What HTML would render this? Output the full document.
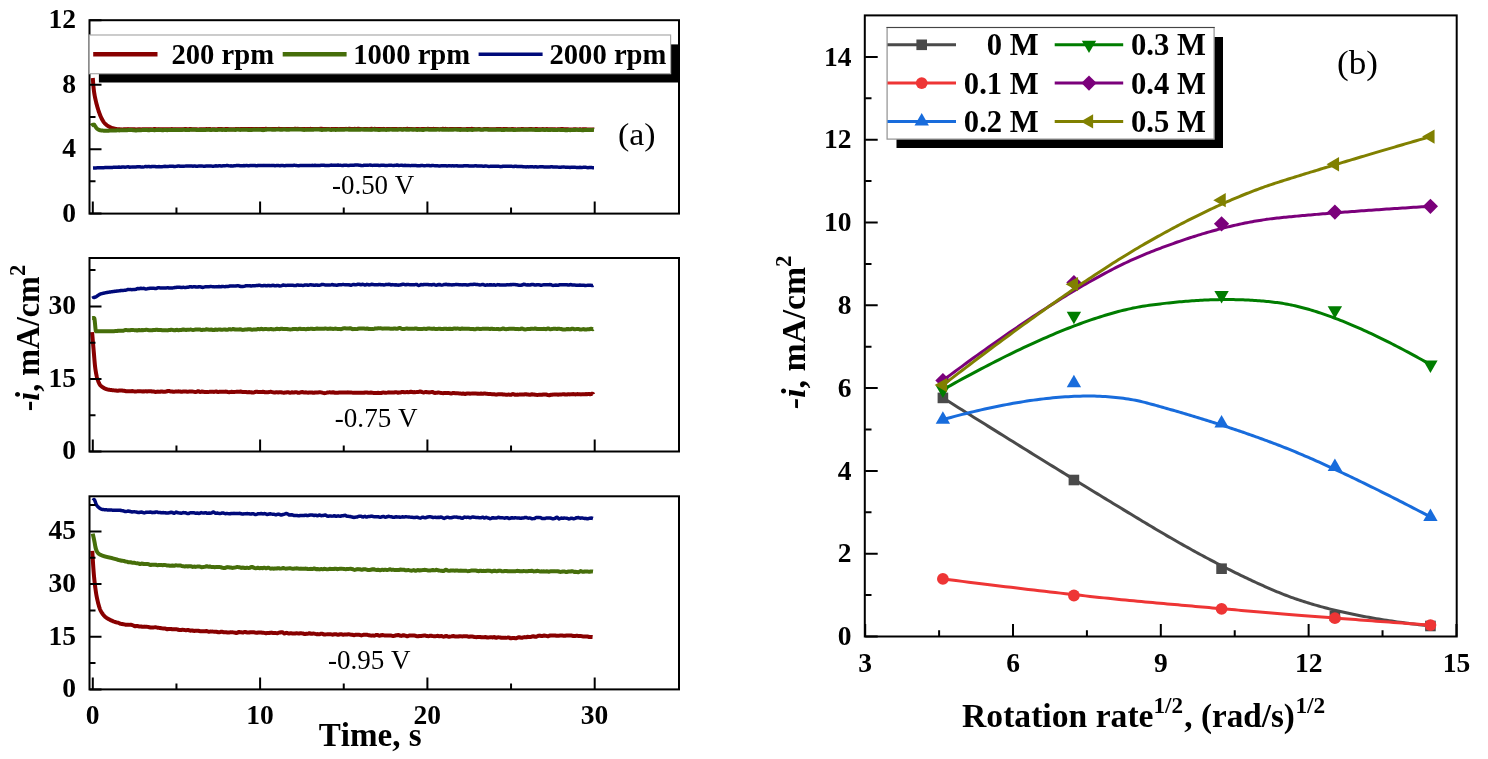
<!DOCTYPE html>
<html><head><meta charset="utf-8"><style>html,body{margin:0;padding:0;background:#fff;}svg{display:block;will-change:transform;}text{font-family:"Liberation Serif",serif;font-kerning:none;}</style></head>
<body><svg width="1488" height="759" viewBox="0 0 1488 759"><rect width="1488" height="759" fill="#fff"/><path d="M92.80,78.00 L93.05,81.59 L93.30,84.79 L93.55,87.52 L93.80,89.76 L94.05,91.69 L94.30,93.38 L94.55,94.89 L94.80,96.25 L95.05,97.50 L95.30,98.67 L95.55,99.78 L95.80,100.86 L96.05,101.91 L96.30,102.92 L96.55,103.91 L96.80,104.87 L97.05,105.80 L97.30,106.70 L97.55,107.57 L97.80,108.41 L98.05,109.22 L98.30,110.00 L98.55,110.76 L98.80,111.50 L99.05,112.22 L99.30,112.93 L99.55,113.62 L99.80,114.28 L100.05,114.93 L100.30,115.55 L100.55,116.15 L100.80,116.73 L101.05,117.28 L101.30,117.80 L101.55,118.30 L101.80,118.78 L102.05,119.25 L102.30,119.71 L102.55,120.16 L102.80,120.59 L103.05,121.00 L103.30,121.40 L103.55,121.77 L103.80,122.13 L104.05,122.46 L104.30,122.77 L104.55,123.06 L104.80,123.32 L105.05,123.58 L105.30,123.84 L105.55,124.08 L105.80,124.31 L106.05,124.53 L106.30,124.75 L106.55,124.95 L106.80,125.15 L107.05,125.34 L107.30,125.52 L107.55,125.70 L107.80,125.87 L108.05,126.03 L108.30,126.18 L108.55,126.33 L108.80,126.47 L109.05,126.62 L109.30,126.76 L109.55,126.89 L109.80,127.03 L110.05,127.16 L110.30,127.28 L110.55,127.41 L110.80,127.52 L111.05,127.64 L111.30,127.74 L111.55,127.85 L111.80,127.94 L112.05,128.03 L112.30,128.11 L112.55,128.19 L112.80,128.25 L113.80,128.48 L114.80,128.69 L115.80,128.88 L116.80,129.04 L117.80,129.17 L118.80,129.23 L119.80,129.29 L120.80,129.37 L121.80,129.41 L122.80,129.42 L123.80,129.36 L124.80,129.29 L125.80,129.32 L126.80,129.28 L127.80,129.12 L128.80,129.17 L129.80,129.22 L130.80,129.17 L131.80,129.23 L132.80,129.29 L133.80,129.34 L134.80,129.36 L135.80,129.42 L136.80,129.47 L137.80,129.35 L138.80,129.15 L139.80,129.18 L140.80,129.38 L141.80,129.33 L142.80,129.22 L143.80,129.26 L144.80,129.32 L145.80,129.36 L146.80,129.33 L147.80,129.25 L148.80,129.23 L149.80,129.24 L150.80,129.23 L151.80,129.37 L152.80,129.38 L153.80,129.07 L154.80,128.98 L155.80,129.34 L156.80,129.51 L157.80,129.23 L158.80,129.12 L159.80,129.22 L160.80,129.18 L161.80,129.15 L162.80,129.23 L163.80,129.27 L164.80,129.26 L165.80,129.25 L166.80,129.21 L167.80,129.14 L168.80,129.13 L169.80,129.14 L170.80,129.15 L171.80,129.08 L172.80,129.15 L173.80,129.33 L174.80,129.31 L175.80,129.26 L176.80,129.27 L177.80,129.21 L178.80,129.21 L179.80,129.28 L180.80,129.22 L181.80,129.17 L182.80,129.22 L183.80,129.16 L184.80,129.04 L185.80,129.06 L186.80,129.22 L187.80,129.30 L188.80,129.19 L189.80,129.07 L190.80,129.01 L191.80,129.15 L192.80,129.29 L193.80,129.20 L194.80,129.14 L195.80,129.23 L196.80,129.32 L197.80,129.40 L198.80,129.44 L199.80,129.29 L200.80,129.14 L201.80,129.15 L202.80,129.19 L203.80,129.20 L204.80,129.20 L205.80,129.12 L206.80,129.07 L207.80,129.16 L208.80,129.11 L209.80,129.07 L210.80,129.25 L211.80,129.37 L212.80,129.30 L213.80,129.17 L214.80,129.23 L215.80,129.45 L216.80,129.34 L217.80,129.06 L218.80,129.03 L219.80,129.05 L220.80,129.02 L221.80,129.07 L222.80,129.18 L223.80,129.30 L224.80,129.17 L225.80,128.92 L226.80,128.93 L227.80,129.04 L228.80,129.18 L229.80,129.23 L230.80,129.14 L231.80,129.14 L232.80,129.36 L233.80,129.36 L234.80,129.13 L235.80,129.07 L236.80,129.07 L237.80,129.01 L238.80,129.08 L239.80,129.18 L240.80,129.09 L241.80,129.05 L242.80,129.10 L243.80,129.05 L244.80,129.01 L245.80,129.02 L246.80,128.99 L247.80,128.94 L248.80,128.97 L249.80,129.02 L250.80,129.04 L251.80,129.05 L252.80,129.08 L253.80,129.12 L254.80,129.07 L255.80,129.00 L256.80,128.96 L257.80,128.91 L258.80,128.93 L259.80,128.99 L260.80,128.93 L261.80,128.94 L262.80,129.07 L263.80,129.09 L264.80,128.92 L265.80,128.84 L266.80,128.99 L267.80,129.01 L268.80,128.95 L269.80,129.01 L270.80,128.94 L271.80,128.89 L272.80,128.97 L273.80,129.02 L274.80,128.96 L275.80,128.96 L276.80,129.09 L277.80,128.97 L278.80,128.86 L279.80,128.98 L280.80,129.03 L281.80,129.01 L282.80,128.99 L283.80,129.00 L284.80,128.99 L285.80,128.98 L286.80,129.01 L287.80,128.95 L288.80,128.90 L289.80,128.99 L290.80,129.04 L291.80,128.96 L292.80,128.94 L293.80,128.93 L294.80,128.80 L295.80,128.81 L296.80,128.88 L297.80,128.87 L298.80,128.93 L299.80,129.04 L300.80,129.04 L301.80,128.92 L302.80,128.91 L303.80,128.88 L304.80,128.93 L305.80,129.15 L306.80,129.05 L307.80,128.94 L308.80,129.05 L309.80,128.95 L310.80,128.85 L311.80,129.02 L312.80,129.09 L313.80,128.98 L314.80,128.97 L315.80,128.99 L316.80,128.96 L317.80,129.01 L318.80,129.01 L319.80,128.87 L320.80,128.82 L321.80,128.86 L322.80,128.95 L323.80,129.06 L324.80,129.10 L325.80,129.09 L326.80,129.07 L327.80,128.99 L328.80,128.97 L329.80,129.12 L330.80,129.20 L331.80,129.03 L332.80,128.92 L333.80,128.93 L334.80,128.91 L335.80,128.91 L336.80,128.96 L337.80,129.05 L338.80,129.13 L339.80,129.09 L340.80,129.08 L341.80,129.10 L342.80,129.09 L343.80,129.10 L344.80,128.97 L345.80,128.87 L346.80,128.92 L347.80,128.90 L348.80,128.85 L349.80,128.84 L350.80,128.90 L351.80,129.05 L352.80,129.03 L353.80,128.89 L354.80,128.86 L355.80,128.90 L356.80,128.91 L357.80,128.84 L358.80,128.85 L359.80,128.91 L360.80,128.99 L361.80,129.12 L362.80,129.16 L363.80,129.08 L364.80,128.98 L365.80,128.92 L366.80,129.00 L367.80,129.05 L368.80,129.13 L369.80,129.07 L370.80,128.86 L371.80,128.86 L372.80,128.93 L373.80,128.94 L374.80,128.87 L375.80,128.89 L376.80,129.03 L377.80,129.08 L378.80,129.00 L379.80,128.90 L380.80,128.95 L381.80,129.06 L382.80,128.96 L383.80,128.87 L384.80,129.02 L385.80,129.13 L386.80,129.09 L387.80,129.05 L388.80,129.01 L389.80,128.96 L390.80,128.98 L391.80,129.01 L392.80,129.09 L393.80,129.10 L394.80,128.97 L395.80,128.96 L396.80,129.06 L397.80,129.16 L398.80,129.07 L399.80,128.94 L400.80,129.02 L401.80,129.20 L402.80,129.17 L403.80,128.91 L404.80,128.93 L405.80,129.04 L406.80,128.87 L407.80,128.84 L408.80,129.04 L409.80,129.10 L410.80,129.01 L411.80,129.03 L412.80,129.12 L413.80,129.16 L414.80,129.13 L415.80,129.06 L416.80,128.95 L417.80,128.94 L418.80,129.04 L419.80,129.14 L420.80,129.08 L421.80,128.99 L422.80,129.08 L423.80,129.11 L424.80,129.02 L425.80,128.97 L426.80,128.89 L427.80,128.84 L428.80,128.96 L429.80,129.00 L430.80,128.97 L431.80,128.98 L432.80,128.89 L433.80,128.87 L434.80,129.04 L435.80,129.11 L436.80,128.99 L437.80,129.04 L438.80,129.16 L439.80,129.16 L440.80,129.11 L441.80,128.87 L442.80,128.78 L443.80,128.93 L444.80,128.93 L445.80,128.87 L446.80,128.95 L447.80,129.12 L448.80,129.13 L449.80,129.05 L450.80,129.09 L451.80,129.08 L452.80,129.03 L453.80,129.02 L454.80,129.05 L455.80,129.10 L456.80,129.08 L457.80,129.07 L458.80,129.09 L459.80,129.05 L460.80,129.06 L461.80,129.18 L462.80,129.19 L463.80,129.16 L464.80,129.21 L465.80,129.15 L466.80,129.01 L467.80,129.01 L468.80,129.08 L469.80,129.03 L470.80,128.89 L471.80,128.86 L472.80,128.91 L473.80,129.02 L474.80,129.21 L475.80,129.30 L476.80,129.24 L477.80,129.12 L478.80,129.05 L479.80,129.10 L480.80,129.27 L481.80,129.38 L482.80,129.26 L483.80,129.10 L484.80,129.04 L485.80,128.99 L486.80,128.97 L487.80,129.03 L488.80,129.19 L489.80,129.28 L490.80,129.25 L491.80,129.31 L492.80,129.34 L493.80,129.27 L494.80,129.29 L495.80,129.22 L496.80,129.10 L497.80,129.10 L498.80,129.10 L499.80,129.07 L500.80,129.08 L501.80,129.13 L502.80,129.11 L503.80,129.04 L504.80,128.99 L505.80,128.97 L506.80,129.09 L507.80,129.20 L508.80,129.18 L509.80,129.18 L510.80,129.16 L511.80,129.07 L512.80,129.09 L513.80,129.21 L514.80,129.27 L515.80,129.35 L516.80,129.40 L517.80,129.30 L518.80,129.30 L519.80,129.31 L520.80,129.15 L521.80,129.00 L522.80,129.00 L523.80,129.16 L524.80,129.28 L525.80,129.25 L526.80,129.17 L527.80,129.16 L528.80,129.09 L529.80,128.99 L530.80,129.09 L531.80,129.12 L532.80,129.15 L533.80,129.26 L534.80,129.10 L535.80,128.95 L536.80,129.07 L537.80,129.20 L538.80,129.19 L539.80,129.25 L540.80,129.30 L541.80,129.19 L542.80,129.06 L543.80,129.16 L544.80,129.28 L545.80,129.13 L546.80,129.06 L547.80,129.20 L548.80,129.31 L549.80,129.33 L550.80,129.26 L551.80,129.21 L552.80,129.31 L553.80,129.27 L554.80,129.19 L555.80,129.44 L556.80,129.52 L557.80,129.30 L558.80,129.30 L559.80,129.33 L560.80,129.09 L561.80,128.93 L562.80,129.02 L563.80,129.13 L564.80,129.23 L565.80,129.33 L566.80,129.28 L567.80,129.21 L568.80,129.39 L569.80,129.58 L570.80,129.57 L571.80,129.47 L572.80,129.41 L573.80,129.37 L574.80,129.31 L575.80,129.35 L576.80,129.41 L577.80,129.46 L578.80,129.39 L579.80,129.26 L580.80,129.36 L581.80,129.42 L582.80,129.27 L583.80,129.21 L584.80,129.18 L585.80,129.23 L586.80,129.46 L587.80,129.59 L588.80,129.54 L589.80,129.44 L590.80,129.41 L591.80,129.38 L592.80,129.38 L593.80,129.50 L594.00,129.55" fill="none" stroke="#880000" stroke-width="4.0" stroke-linejoin="round" stroke-linecap="butt"/><path d="M91.20,125.80 L91.45,125.57 L91.70,125.37 L91.95,125.18 L92.20,125.03 L92.45,124.92 L92.70,124.84 L92.95,124.77 L93.20,124.70 L93.45,124.65 L93.70,124.62 L93.95,124.60 L94.20,124.68 L94.45,124.97 L94.70,125.37 L94.95,125.81 L95.20,126.20 L95.45,126.55 L95.70,126.92 L95.95,127.30 L96.20,127.67 L96.45,128.01 L96.70,128.32 L96.95,128.56 L97.20,128.75 L97.45,128.94 L97.70,129.12 L97.95,129.29 L98.20,129.45 L98.45,129.60 L98.70,129.73 L98.95,129.86 L99.20,129.97 L99.45,130.07 L99.70,130.16 L99.95,130.23 L100.20,130.28 L100.45,130.32 L100.70,130.36 L100.95,130.39 L101.20,130.43 L101.45,130.46 L101.70,130.49 L101.95,130.52 L102.20,130.55 L102.45,130.57 L102.70,130.59 L102.95,130.61 L103.20,130.63 L103.45,130.65 L103.70,130.66 L103.95,130.68 L104.20,130.69 L104.45,130.69 L104.70,130.70 L104.95,130.70 L105.20,130.70 L105.45,130.70 L105.70,130.70 L105.95,130.70 L106.20,130.69 L106.45,130.69 L106.70,130.69 L106.95,130.68 L107.20,130.68 L107.45,130.67 L107.70,130.67 L107.95,130.66 L108.20,130.66 L108.45,130.65 L108.70,130.65 L108.95,130.64 L109.20,130.63 L109.45,130.62 L109.70,130.62 L109.95,130.61 L110.20,130.60 L110.45,130.59 L110.70,130.58 L110.95,130.58 L111.20,130.57 L112.20,130.53 L113.20,130.49 L114.20,130.45 L115.20,130.42 L116.20,130.39 L117.20,130.27 L118.20,130.36 L119.20,130.39 L120.20,130.34 L121.20,130.36 L122.20,130.29 L123.20,130.21 L124.20,130.17 L125.20,130.19 L126.20,130.21 L127.20,130.16 L128.20,130.10 L129.20,130.07 L130.20,130.01 L131.20,129.99 L132.20,130.11 L133.20,130.26 L134.20,130.32 L135.20,130.40 L136.20,130.46 L137.20,130.29 L138.20,130.21 L139.20,130.25 L140.20,130.17 L141.20,130.13 L142.20,130.09 L143.20,130.00 L144.20,129.98 L145.20,130.09 L146.20,130.08 L147.20,130.07 L148.20,130.24 L149.20,130.24 L150.20,130.08 L151.20,130.00 L152.20,130.02 L153.20,130.08 L154.20,130.16 L155.20,130.13 L156.20,129.99 L157.20,129.93 L158.20,129.89 L159.20,129.84 L160.20,129.90 L161.20,130.02 L162.20,130.15 L163.20,130.14 L164.20,130.02 L165.20,130.00 L166.20,130.09 L167.20,130.18 L168.20,130.12 L169.20,129.99 L170.20,129.88 L171.20,129.87 L172.20,129.94 L173.20,129.97 L174.20,129.91 L175.20,129.87 L176.20,129.91 L177.20,130.00 L178.20,130.08 L179.20,130.07 L180.20,129.98 L181.20,129.89 L182.20,129.88 L183.20,129.86 L184.20,129.85 L185.20,129.90 L186.20,129.92 L187.20,129.98 L188.20,130.05 L189.20,130.03 L190.20,129.88 L191.20,129.74 L192.20,129.76 L193.20,129.75 L194.20,129.73 L195.20,129.87 L196.20,129.91 L197.20,129.92 L198.20,130.02 L199.20,130.03 L200.20,129.90 L201.20,129.82 L202.20,129.89 L203.20,129.90 L204.20,129.87 L205.20,129.97 L206.20,129.89 L207.20,129.71 L208.20,129.73 L209.20,129.81 L210.20,129.96 L211.20,129.95 L212.20,129.75 L213.20,129.72 L214.20,129.81 L215.20,129.91 L216.20,130.03 L217.20,129.99 L218.20,129.88 L219.20,129.79 L220.20,129.68 L221.20,129.81 L222.20,129.93 L223.20,129.82 L224.20,129.78 L225.20,129.95 L226.20,130.06 L227.20,129.88 L228.20,129.79 L229.20,129.81 L230.20,129.72 L231.20,129.74 L232.20,129.82 L233.20,129.83 L234.20,129.83 L235.20,129.91 L236.20,129.81 L237.20,129.54 L238.20,129.49 L239.20,129.72 L240.20,129.91 L241.20,129.87 L242.20,129.78 L243.20,129.80 L244.20,129.86 L245.20,129.86 L246.20,129.77 L247.20,129.75 L248.20,129.91 L249.20,129.90 L250.20,129.82 L251.20,129.96 L252.20,129.92 L253.20,129.65 L254.20,129.57 L255.20,129.75 L256.20,129.81 L257.20,129.63 L258.20,129.59 L259.20,129.74 L260.20,129.72 L261.20,129.81 L262.20,130.11 L263.20,130.14 L264.20,129.91 L265.20,129.77 L266.20,129.66 L267.20,129.54 L268.20,129.59 L269.20,129.59 L270.20,129.48 L271.20,129.53 L272.20,129.70 L273.20,129.76 L274.20,129.78 L275.20,129.77 L276.20,129.61 L277.20,129.46 L278.20,129.46 L279.20,129.63 L280.20,129.76 L281.20,129.77 L282.20,129.71 L283.20,129.60 L284.20,129.56 L285.20,129.54 L286.20,129.64 L287.20,129.87 L288.20,129.84 L289.20,129.63 L290.20,129.59 L291.20,129.59 L292.20,129.58 L293.20,129.61 L294.20,129.57 L295.20,129.55 L296.20,129.56 L297.20,129.53 L298.20,129.46 L299.20,129.43 L300.20,129.49 L301.20,129.57 L302.20,129.64 L303.20,129.77 L304.20,129.90 L305.20,129.84 L306.20,129.75 L307.20,129.73 L308.20,129.74 L309.20,129.84 L310.20,129.76 L311.20,129.63 L312.20,129.75 L313.20,129.69 L314.20,129.43 L315.20,129.47 L316.20,129.52 L317.20,129.43 L318.20,129.45 L319.20,129.58 L320.20,129.72 L321.20,129.89 L322.20,129.96 L323.20,129.85 L324.20,129.80 L325.20,129.78 L326.20,129.67 L327.20,129.50 L328.20,129.41 L329.20,129.57 L330.20,129.82 L331.20,129.93 L332.20,129.86 L333.20,129.74 L334.20,129.72 L335.20,129.88 L336.20,129.88 L337.20,129.71 L338.20,129.62 L339.20,129.67 L340.20,129.82 L341.20,129.81 L342.20,129.73 L343.20,129.76 L344.20,129.74 L345.20,129.62 L346.20,129.49 L347.20,129.42 L348.20,129.49 L349.20,129.77 L350.20,129.86 L351.20,129.65 L352.20,129.65 L353.20,129.70 L354.20,129.63 L355.20,129.62 L356.20,129.66 L357.20,129.74 L358.20,129.71 L359.20,129.71 L360.20,129.75 L361.20,129.60 L362.20,129.47 L363.20,129.60 L364.20,129.75 L365.20,129.74 L366.20,129.66 L367.20,129.61 L368.20,129.70 L369.20,129.78 L370.20,129.84 L371.20,129.88 L372.20,129.72 L373.20,129.50 L374.20,129.54 L375.20,129.73 L376.20,129.80 L377.20,129.82 L378.20,129.88 L379.20,129.95 L380.20,129.89 L381.20,129.74 L382.20,129.76 L383.20,129.76 L384.20,129.70 L385.20,129.84 L386.20,129.94 L387.20,129.85 L388.20,129.74 L389.20,129.66 L390.20,129.61 L391.20,129.62 L392.20,129.65 L393.20,129.65 L394.20,129.67 L395.20,129.76 L396.20,129.77 L397.20,129.67 L398.20,129.63 L399.20,129.44 L400.20,129.38 L401.20,129.58 L402.20,129.72 L403.20,129.66 L404.20,129.55 L405.20,129.62 L406.20,129.77 L407.20,129.83 L408.20,129.78 L409.20,129.70 L410.20,129.62 L411.20,129.61 L412.20,129.68 L413.20,129.70 L414.20,129.60 L415.20,129.60 L416.20,129.81 L417.20,129.93 L418.20,129.85 L419.20,129.74 L420.20,129.74 L421.20,129.82 L422.20,129.90 L423.20,129.92 L424.20,129.78 L425.20,129.60 L426.20,129.56 L427.20,129.52 L428.20,129.60 L429.20,129.82 L430.20,129.79 L431.20,129.72 L432.20,129.84 L433.20,129.78 L434.20,129.65 L435.20,129.70 L436.20,129.69 L437.20,129.54 L438.20,129.49 L439.20,129.64 L440.20,129.62 L441.20,129.51 L442.20,129.68 L443.20,129.79 L444.20,129.71 L445.20,129.70 L446.20,129.66 L447.20,129.61 L448.20,129.72 L449.20,129.77 L450.20,129.67 L451.20,129.69 L452.20,129.73 L453.20,129.65 L454.20,129.59 L455.20,129.53 L456.20,129.58 L457.20,129.71 L458.20,129.73 L459.20,129.82 L460.20,129.98 L461.20,129.85 L462.20,129.72 L463.20,129.71 L464.20,129.76 L465.20,129.84 L466.20,129.83 L467.20,129.92 L468.20,129.88 L469.20,129.76 L470.20,129.77 L471.20,129.88 L472.20,129.98 L473.20,129.81 L474.20,129.55 L475.20,129.46 L476.20,129.51 L477.20,129.59 L478.20,129.58 L479.20,129.56 L480.20,129.63 L481.20,129.79 L482.20,129.82 L483.20,129.65 L484.20,129.59 L485.20,129.58 L486.20,129.52 L487.20,129.53 L488.20,129.66 L489.20,129.80 L490.20,129.77 L491.20,129.75 L492.20,129.84 L493.20,129.84 L494.20,129.80 L495.20,129.78 L496.20,129.76 L497.20,129.84 L498.20,129.85 L499.20,129.72 L500.20,129.73 L501.20,129.90 L502.20,130.04 L503.20,130.08 L504.20,129.94 L505.20,129.84 L506.20,129.82 L507.20,129.86 L508.20,129.87 L509.20,129.77 L510.20,129.78 L511.20,129.84 L512.20,129.87 L513.20,129.94 L514.20,130.00 L515.20,129.98 L516.20,129.88 L517.20,129.76 L518.20,129.67 L519.20,129.68 L520.20,129.78 L521.20,129.87 L522.20,129.78 L523.20,129.74 L524.20,129.81 L525.20,129.77 L526.20,129.73 L527.20,129.82 L528.20,129.78 L529.20,129.59 L530.20,129.64 L531.20,129.81 L532.20,129.80 L533.20,129.74 L534.20,129.85 L535.20,129.97 L536.20,129.94 L537.20,129.97 L538.20,129.98 L539.20,129.91 L540.20,129.90 L541.20,129.85 L542.20,129.76 L543.20,129.81 L544.20,129.92 L545.20,129.89 L546.20,129.78 L547.20,129.87 L548.20,130.08 L549.20,130.08 L550.20,129.92 L551.20,129.78 L552.20,129.76 L553.20,129.91 L554.20,129.92 L555.20,129.88 L556.20,130.03 L557.20,130.04 L558.20,129.87 L559.20,129.84 L560.20,129.90 L561.20,129.96 L562.20,129.88 L563.20,129.88 L564.20,130.06 L565.20,130.15 L566.20,130.19 L567.20,130.17 L568.20,130.05 L569.20,130.06 L570.20,130.13 L571.20,130.11 L572.20,130.00 L573.20,129.95 L574.20,129.95 L575.20,129.92 L576.20,129.83 L577.20,129.80 L578.20,129.89 L579.20,129.91 L580.20,129.93 L581.20,130.03 L582.20,130.17 L583.20,130.27 L584.20,130.10 L585.20,129.94 L586.20,129.98 L587.20,130.04 L588.20,130.05 L589.20,130.00 L590.20,129.95 L591.20,129.97 L592.20,129.91 L593.20,129.85 L594.00,129.94" fill="none" stroke="#466E0A" stroke-width="4.0" stroke-linejoin="round" stroke-linecap="butt"/><path d="M93.00,168.00 L93.25,167.99 L93.50,167.98 L93.75,167.97 L94.00,167.97 L94.25,167.96 L94.50,167.95 L94.75,167.94 L95.00,167.93 L95.25,167.92 L95.50,167.91 L95.75,167.91 L96.00,167.90 L96.25,167.89 L96.50,167.88 L96.75,167.87 L97.00,167.86 L97.25,167.86 L97.50,167.85 L97.75,167.84 L98.00,167.83 L98.25,167.82 L98.50,167.81 L98.75,167.81 L99.00,167.80 L99.25,167.79 L99.50,167.78 L99.75,167.77 L100.00,167.76 L100.25,167.76 L100.50,167.75 L100.75,167.74 L101.00,167.73 L101.25,167.72 L101.50,167.72 L101.75,167.71 L102.00,167.70 L102.25,167.69 L102.50,167.68 L102.75,167.68 L103.00,167.67 L103.25,167.66 L103.50,167.65 L103.75,167.64 L104.00,167.64 L104.25,167.63 L104.50,167.62 L104.75,167.61 L105.00,167.60 L105.25,167.60 L105.50,167.59 L105.75,167.58 L106.00,167.57 L106.25,167.57 L106.50,167.56 L106.75,167.55 L107.00,167.54 L107.25,167.54 L107.50,167.53 L107.75,167.52 L108.00,167.51 L108.25,167.51 L108.50,167.50 L108.75,167.49 L109.00,167.48 L109.25,167.48 L109.50,167.47 L109.75,167.46 L110.00,167.46 L110.25,167.45 L110.50,167.44 L110.75,167.43 L111.00,167.43 L111.25,167.42 L111.50,167.41 L111.75,167.41 L112.00,167.40 L112.25,167.39 L112.50,167.39 L112.75,167.38 L113.00,167.37 L114.00,167.35 L115.00,167.32 L116.00,167.29 L117.00,167.27 L118.00,167.25 L119.00,167.07 L120.00,167.15 L121.00,167.20 L122.00,167.05 L123.00,166.99 L124.00,167.06 L125.00,167.13 L126.00,167.08 L127.00,166.87 L128.00,166.79 L129.00,166.98 L130.00,167.15 L131.00,167.12 L132.00,166.99 L133.00,166.92 L134.00,166.91 L135.00,166.92 L136.00,166.90 L137.00,166.83 L138.00,166.81 L139.00,166.84 L140.00,166.86 L141.00,166.96 L142.00,167.11 L143.00,167.10 L144.00,166.86 L145.00,166.57 L146.00,166.54 L147.00,166.64 L148.00,166.58 L149.00,166.51 L150.00,166.70 L151.00,166.73 L152.00,166.49 L153.00,166.39 L154.00,166.46 L155.00,166.56 L156.00,166.72 L157.00,166.77 L158.00,166.65 L159.00,166.59 L160.00,166.64 L161.00,166.71 L162.00,166.70 L163.00,166.58 L164.00,166.40 L165.00,166.32 L166.00,166.41 L167.00,166.55 L168.00,166.52 L169.00,166.36 L170.00,166.33 L171.00,166.35 L172.00,166.25 L173.00,166.23 L174.00,166.44 L175.00,166.57 L176.00,166.37 L177.00,166.16 L178.00,166.06 L179.00,166.09 L180.00,166.27 L181.00,166.35 L182.00,166.28 L183.00,166.25 L184.00,166.23 L185.00,166.13 L186.00,166.01 L187.00,166.05 L188.00,166.10 L189.00,166.04 L190.00,166.00 L191.00,165.99 L192.00,166.07 L193.00,166.14 L194.00,166.08 L195.00,166.08 L196.00,166.17 L197.00,166.24 L198.00,166.14 L199.00,165.95 L200.00,165.97 L201.00,166.01 L202.00,166.03 L203.00,166.13 L204.00,166.18 L205.00,166.13 L206.00,166.10 L207.00,166.10 L208.00,165.98 L209.00,165.94 L210.00,165.96 L211.00,166.00 L212.00,166.14 L213.00,166.21 L214.00,166.15 L215.00,165.96 L216.00,165.83 L217.00,165.89 L218.00,165.90 L219.00,165.84 L220.00,165.84 L221.00,165.92 L222.00,165.94 L223.00,165.87 L224.00,165.84 L225.00,165.73 L226.00,165.62 L227.00,165.60 L228.00,165.62 L229.00,165.77 L230.00,165.88 L231.00,165.85 L232.00,165.90 L233.00,165.95 L234.00,165.85 L235.00,165.75 L236.00,165.62 L237.00,165.58 L238.00,165.62 L239.00,165.60 L240.00,165.68 L241.00,165.78 L242.00,165.80 L243.00,165.69 L244.00,165.61 L245.00,165.64 L246.00,165.62 L247.00,165.62 L248.00,165.65 L249.00,165.64 L250.00,165.58 L251.00,165.54 L252.00,165.47 L253.00,165.41 L254.00,165.45 L255.00,165.56 L256.00,165.74 L257.00,165.70 L258.00,165.49 L259.00,165.52 L260.00,165.55 L261.00,165.52 L262.00,165.57 L263.00,165.48 L264.00,165.37 L265.00,165.46 L266.00,165.55 L267.00,165.51 L268.00,165.48 L269.00,165.60 L270.00,165.61 L271.00,165.44 L272.00,165.42 L273.00,165.48 L274.00,165.57 L275.00,165.69 L276.00,165.59 L277.00,165.40 L278.00,165.39 L279.00,165.59 L280.00,165.73 L281.00,165.61 L282.00,165.54 L283.00,165.56 L284.00,165.63 L285.00,165.69 L286.00,165.59 L287.00,165.54 L288.00,165.57 L289.00,165.49 L290.00,165.48 L291.00,165.58 L292.00,165.55 L293.00,165.41 L294.00,165.33 L295.00,165.36 L296.00,165.52 L297.00,165.61 L298.00,165.63 L299.00,165.64 L300.00,165.57 L301.00,165.51 L302.00,165.55 L303.00,165.52 L304.00,165.48 L305.00,165.55 L306.00,165.59 L307.00,165.48 L308.00,165.42 L309.00,165.56 L310.00,165.62 L311.00,165.47 L312.00,165.37 L313.00,165.44 L314.00,165.41 L315.00,165.28 L316.00,165.39 L317.00,165.48 L318.00,165.43 L319.00,165.51 L320.00,165.47 L321.00,165.35 L322.00,165.28 L323.00,165.19 L324.00,165.32 L325.00,165.47 L326.00,165.45 L327.00,165.49 L328.00,165.49 L329.00,165.45 L330.00,165.29 L331.00,165.10 L332.00,165.18 L333.00,165.27 L334.00,165.17 L335.00,165.16 L336.00,165.27 L337.00,165.20 L338.00,165.10 L339.00,165.22 L340.00,165.36 L341.00,165.37 L342.00,165.47 L343.00,165.52 L344.00,165.34 L345.00,165.14 L346.00,165.13 L347.00,165.29 L348.00,165.42 L349.00,165.41 L350.00,165.36 L351.00,165.31 L352.00,165.29 L353.00,165.26 L354.00,165.19 L355.00,165.08 L356.00,165.06 L357.00,165.12 L358.00,165.12 L359.00,165.19 L360.00,165.32 L361.00,165.47 L362.00,165.63 L363.00,165.51 L364.00,165.32 L365.00,165.36 L366.00,165.34 L367.00,165.30 L368.00,165.34 L369.00,165.12 L370.00,165.00 L371.00,165.20 L372.00,165.35 L373.00,165.39 L374.00,165.25 L375.00,165.23 L376.00,165.35 L377.00,165.29 L378.00,165.35 L379.00,165.47 L380.00,165.39 L381.00,165.32 L382.00,165.37 L383.00,165.37 L384.00,165.32 L385.00,165.38 L386.00,165.54 L387.00,165.58 L388.00,165.38 L389.00,165.27 L390.00,165.36 L391.00,165.36 L392.00,165.37 L393.00,165.45 L394.00,165.46 L395.00,165.36 L396.00,165.21 L397.00,165.08 L398.00,165.25 L399.00,165.47 L400.00,165.37 L401.00,165.24 L402.00,165.28 L403.00,165.42 L404.00,165.41 L405.00,165.35 L406.00,165.46 L407.00,165.54 L408.00,165.51 L409.00,165.52 L410.00,165.63 L411.00,165.59 L412.00,165.46 L413.00,165.41 L414.00,165.48 L415.00,165.56 L416.00,165.57 L417.00,165.63 L418.00,165.70 L419.00,165.73 L420.00,165.68 L421.00,165.48 L422.00,165.37 L423.00,165.53 L424.00,165.66 L425.00,165.65 L426.00,165.61 L427.00,165.54 L428.00,165.48 L429.00,165.55 L430.00,165.70 L431.00,165.67 L432.00,165.51 L433.00,165.46 L434.00,165.62 L435.00,165.79 L436.00,165.72 L437.00,165.67 L438.00,165.84 L439.00,165.93 L440.00,165.88 L441.00,165.87 L442.00,165.87 L443.00,165.85 L444.00,165.77 L445.00,165.75 L446.00,165.85 L447.00,165.93 L448.00,165.85 L449.00,165.68 L450.00,165.78 L451.00,165.88 L452.00,165.82 L453.00,165.85 L454.00,165.92 L455.00,165.87 L456.00,165.78 L457.00,165.84 L458.00,165.99 L459.00,166.03 L460.00,165.93 L461.00,165.89 L462.00,165.95 L463.00,165.95 L464.00,165.78 L465.00,165.73 L466.00,165.81 L467.00,165.79 L468.00,165.83 L469.00,165.95 L470.00,165.96 L471.00,165.93 L472.00,165.92 L473.00,165.88 L474.00,165.89 L475.00,165.82 L476.00,165.85 L477.00,166.02 L478.00,166.00 L479.00,165.94 L480.00,166.01 L481.00,166.10 L482.00,166.11 L483.00,166.15 L484.00,166.18 L485.00,166.08 L486.00,166.03 L487.00,166.13 L488.00,166.30 L489.00,166.40 L490.00,166.36 L491.00,166.25 L492.00,166.23 L493.00,166.28 L494.00,166.28 L495.00,166.34 L496.00,166.33 L497.00,166.23 L498.00,166.23 L499.00,166.36 L500.00,166.60 L501.00,166.65 L502.00,166.44 L503.00,166.22 L504.00,166.13 L505.00,166.26 L506.00,166.33 L507.00,166.31 L508.00,166.34 L509.00,166.28 L510.00,166.32 L511.00,166.37 L512.00,166.37 L513.00,166.53 L514.00,166.55 L515.00,166.32 L516.00,166.31 L517.00,166.49 L518.00,166.48 L519.00,166.39 L520.00,166.45 L521.00,166.52 L522.00,166.59 L523.00,166.67 L524.00,166.76 L525.00,166.87 L526.00,166.88 L527.00,166.82 L528.00,166.85 L529.00,166.88 L530.00,166.74 L531.00,166.64 L532.00,166.72 L533.00,166.84 L534.00,166.89 L535.00,166.85 L536.00,166.82 L537.00,166.90 L538.00,166.97 L539.00,166.88 L540.00,166.80 L541.00,166.81 L542.00,166.81 L543.00,166.84 L544.00,166.88 L545.00,166.99 L546.00,167.07 L547.00,166.95 L548.00,166.88 L549.00,166.94 L550.00,166.94 L551.00,166.83 L552.00,166.84 L553.00,166.97 L554.00,167.05 L555.00,167.01 L556.00,166.93 L557.00,166.95 L558.00,167.13 L559.00,167.25 L560.00,167.20 L561.00,167.15 L562.00,167.12 L563.00,167.04 L564.00,167.05 L565.00,167.13 L566.00,167.18 L567.00,167.13 L568.00,167.13 L569.00,167.35 L570.00,167.44 L571.00,167.32 L572.00,167.30 L573.00,167.36 L574.00,167.31 L575.00,167.28 L576.00,167.38 L577.00,167.43 L578.00,167.46 L579.00,167.42 L580.00,167.34 L581.00,167.41 L582.00,167.45 L583.00,167.37 L584.00,167.34 L585.00,167.30 L586.00,167.34 L587.00,167.56 L588.00,167.63 L589.00,167.61 L590.00,167.60 L591.00,167.51 L592.00,167.60 L593.00,167.80 L594.00,167.78" fill="none" stroke="#000A7A" stroke-width="3.5" stroke-linejoin="round" stroke-linecap="butt"/><path d="M89.5,213.60h12 M89.5,149.13h12 M89.5,84.67h12 M89.5,20.20h12 M89.5,181.37h6 M89.5,116.90h6 M89.5,52.43h6 M92.80,213.6v-12 M260.10,213.6v-12 M427.40,213.6v-12 M594.70,213.6v-12 M176.45,213.6v-6 M343.75,213.6v-6 M511.05,213.6v-6" stroke="#000" stroke-width="2" fill="none"/><rect x="89.5" y="20.2" width="589.5" height="193.4" fill="none" stroke="#000" stroke-width="2"/><text x="76.0" y="221.50" font-family="Liberation Serif" font-weight="bold" font-size="27.5" text-anchor="end">0</text><text x="76.0" y="157.03" font-family="Liberation Serif" font-weight="bold" font-size="27.5" text-anchor="end">4</text><text x="76.0" y="92.57" font-family="Liberation Serif" font-weight="bold" font-size="27.5" text-anchor="end">8</text><text x="76.0" y="28.10" font-family="Liberation Serif" font-weight="bold" font-size="27.5" text-anchor="end">12</text><path d="M92.10,332.10 L92.35,335.15 L92.60,338.17 L92.85,341.15 L93.10,344.09 L93.35,347.00 L93.60,349.86 L93.85,352.74 L94.10,355.75 L94.35,358.80 L94.60,361.76 L94.85,364.48 L95.10,366.85 L95.35,368.74 L95.60,370.37 L95.85,371.89 L96.10,373.30 L96.35,374.60 L96.60,375.80 L96.85,376.88 L97.10,377.86 L97.35,378.73 L97.60,379.50 L97.85,380.20 L98.10,380.88 L98.35,381.52 L98.60,382.13 L98.85,382.70 L99.10,383.24 L99.35,383.75 L99.60,384.21 L99.85,384.63 L100.10,385.00 L100.35,385.33 L100.60,385.61 L100.85,385.84 L101.10,386.05 L101.35,386.26 L101.60,386.46 L101.85,386.65 L102.10,386.84 L102.35,387.02 L102.60,387.19 L102.85,387.36 L103.10,387.52 L103.35,387.68 L103.60,387.83 L103.85,387.98 L104.10,388.11 L104.35,388.25 L104.60,388.38 L104.85,388.50 L105.10,388.62 L105.35,388.73 L105.60,388.83 L105.85,388.93 L106.10,389.03 L106.35,389.12 L106.60,389.20 L106.85,389.28 L107.10,389.35 L107.35,389.42 L107.60,389.48 L107.85,389.54 L108.10,389.59 L108.35,389.64 L108.60,389.68 L108.85,389.72 L109.10,389.76 L109.35,389.80 L109.60,389.83 L109.85,389.87 L110.10,389.90 L110.35,389.94 L110.60,389.97 L110.85,390.01 L111.10,390.04 L111.35,390.07 L111.60,390.10 L111.85,390.13 L112.10,390.16 L113.10,390.28 L114.10,390.38 L115.10,390.48 L116.10,390.57 L117.10,390.65 L118.10,390.69 L119.10,390.57 L120.10,390.44 L121.10,390.43 L122.10,390.56 L123.10,390.69 L124.10,390.82 L125.10,391.00 L126.10,391.20 L127.10,391.20 L128.10,391.21 L129.10,391.35 L130.10,391.29 L131.10,391.15 L132.10,391.11 L133.10,391.22 L134.10,391.41 L135.10,391.44 L136.10,391.39 L137.10,391.33 L138.10,391.23 L139.10,391.14 L140.10,391.15 L141.10,391.36 L142.10,391.40 L143.10,391.35 L144.10,391.39 L145.10,391.31 L146.10,391.35 L147.10,391.49 L148.10,391.35 L149.10,391.20 L150.10,391.16 L151.10,391.21 L152.10,391.46 L153.10,391.46 L154.10,391.54 L155.10,391.94 L156.10,391.95 L157.10,391.63 L158.10,391.59 L159.10,391.78 L160.10,391.77 L161.10,391.54 L162.10,391.53 L163.10,391.67 L164.10,391.65 L165.10,391.64 L166.10,391.52 L167.10,391.23 L168.10,390.98 L169.10,390.91 L170.10,391.32 L171.10,391.60 L172.10,391.52 L173.10,391.71 L174.10,391.79 L175.10,391.59 L176.10,391.52 L177.10,391.47 L178.10,391.37 L179.10,391.42 L180.10,391.57 L181.10,391.73 L182.10,391.70 L183.10,391.59 L184.10,391.59 L185.10,391.51 L186.10,391.53 L187.10,391.65 L188.10,391.63 L189.10,391.62 L190.10,391.61 L191.10,391.50 L192.10,391.46 L193.10,391.64 L194.10,391.79 L195.10,391.89 L196.10,392.01 L197.10,391.62 L198.10,391.14 L199.10,391.49 L200.10,391.95 L201.10,391.81 L202.10,391.55 L203.10,391.64 L204.10,391.96 L205.10,392.08 L206.10,391.97 L207.10,392.00 L208.10,392.11 L209.10,391.91 L210.10,391.68 L211.10,391.81 L212.10,391.86 L213.10,391.84 L214.10,391.91 L215.10,391.60 L216.10,391.42 L217.10,391.91 L218.10,392.11 L219.10,391.85 L220.10,391.76 L221.10,391.72 L222.10,391.65 L223.10,391.76 L224.10,391.80 L225.10,391.69 L226.10,391.60 L227.10,391.76 L228.10,392.12 L229.10,392.25 L230.10,392.08 L231.10,391.85 L232.10,391.80 L233.10,392.09 L234.10,392.11 L235.10,391.87 L236.10,391.79 L237.10,391.62 L238.10,391.71 L239.10,391.85 L240.10,391.60 L241.10,391.58 L242.10,391.93 L243.10,392.09 L244.10,392.08 L245.10,392.10 L246.10,392.11 L247.10,392.23 L248.10,392.18 L249.10,392.10 L250.10,392.16 L251.10,392.28 L252.10,392.56 L253.10,392.61 L254.10,392.30 L255.10,391.95 L256.10,391.75 L257.10,391.81 L258.10,391.98 L259.10,392.04 L260.10,392.05 L261.10,392.11 L262.10,392.05 L263.10,391.80 L264.10,391.89 L265.10,392.28 L266.10,392.30 L267.10,392.21 L268.10,392.24 L269.10,392.10 L270.10,391.87 L271.10,391.87 L272.10,392.14 L273.10,392.32 L274.10,392.41 L275.10,392.40 L276.10,392.27 L277.10,392.33 L278.10,392.40 L279.10,392.26 L280.10,392.17 L281.10,392.29 L282.10,392.45 L283.10,392.63 L284.10,392.65 L285.10,392.51 L286.10,392.42 L287.10,392.32 L288.10,392.34 L289.10,392.51 L290.10,392.66 L291.10,392.52 L292.10,392.33 L293.10,392.41 L294.10,392.41 L295.10,392.28 L296.10,392.18 L297.10,392.40 L298.10,392.77 L299.10,392.71 L300.10,392.45 L301.10,392.16 L302.10,392.08 L303.10,392.26 L304.10,392.43 L305.10,392.45 L306.10,392.36 L307.10,392.56 L308.10,392.66 L309.10,392.49 L310.10,392.44 L311.10,392.39 L312.10,392.46 L313.10,392.71 L314.10,392.74 L315.10,392.52 L316.10,392.54 L317.10,392.58 L318.10,392.38 L319.10,392.32 L320.10,392.29 L321.10,392.37 L322.10,392.64 L323.10,392.93 L324.10,393.17 L325.10,393.12 L326.10,392.88 L327.10,392.61 L328.10,392.50 L329.10,392.36 L330.10,392.33 L331.10,392.61 L332.10,392.51 L333.10,392.30 L334.10,392.49 L335.10,392.81 L336.10,392.86 L337.10,392.68 L338.10,392.64 L339.10,392.55 L340.10,392.45 L341.10,392.56 L342.10,392.51 L343.10,392.46 L344.10,392.55 L345.10,392.48 L346.10,392.45 L347.10,392.41 L348.10,392.35 L349.10,392.52 L350.10,392.61 L351.10,392.48 L352.10,392.65 L353.10,392.86 L354.10,392.68 L355.10,392.66 L356.10,392.74 L357.10,392.67 L358.10,392.65 L359.10,392.67 L360.10,392.75 L361.10,392.68 L362.10,392.65 L363.10,392.85 L364.10,392.77 L365.10,392.56 L366.10,392.47 L367.10,392.53 L368.10,392.66 L369.10,392.82 L370.10,392.79 L371.10,392.54 L372.10,392.63 L373.10,392.90 L374.10,392.88 L375.10,392.93 L376.10,393.05 L377.10,392.94 L378.10,392.81 L379.10,392.89 L380.10,393.09 L381.10,392.97 L382.10,392.70 L383.10,392.61 L384.10,392.61 L385.10,392.81 L386.10,392.84 L387.10,392.63 L388.10,392.38 L389.10,392.32 L390.10,392.56 L391.10,392.60 L392.10,392.56 L393.10,392.59 L394.10,392.42 L395.10,392.29 L396.10,392.20 L397.10,392.39 L398.10,392.74 L399.10,392.59 L400.10,392.42 L401.10,392.26 L402.10,391.91 L403.10,392.09 L404.10,392.27 L405.10,392.21 L406.10,392.14 L407.10,391.99 L408.10,392.19 L409.10,392.23 L410.10,391.82 L411.10,391.78 L412.10,392.07 L413.10,392.14 L414.10,392.11 L415.10,392.21 L416.10,392.13 L417.10,391.94 L418.10,391.91 L419.10,391.74 L420.10,391.46 L421.10,391.64 L422.10,392.11 L423.10,392.41 L424.10,392.39 L425.10,392.09 L426.10,392.06 L427.10,392.27 L428.10,392.33 L429.10,392.40 L430.10,392.37 L431.10,392.09 L432.10,391.88 L433.10,392.25 L434.10,392.80 L435.10,392.96 L436.10,392.86 L437.10,392.65 L438.10,392.54 L439.10,392.61 L440.10,392.79 L441.10,392.92 L442.10,393.12 L443.10,393.20 L444.10,393.04 L445.10,392.93 L446.10,392.95 L447.10,393.11 L448.10,393.12 L449.10,393.09 L450.10,393.32 L451.10,393.48 L452.10,393.30 L453.10,393.04 L454.10,393.03 L455.10,393.15 L456.10,393.14 L457.10,393.17 L458.10,393.37 L459.10,393.43 L460.10,393.40 L461.10,393.64 L462.10,393.69 L463.10,393.49 L464.10,393.80 L465.10,393.97 L466.10,393.69 L467.10,393.51 L468.10,393.44 L469.10,393.54 L470.10,393.65 L471.10,393.62 L472.10,393.49 L473.10,393.46 L474.10,393.53 L475.10,393.55 L476.10,393.60 L477.10,393.63 L478.10,393.61 L479.10,393.78 L480.10,393.75 L481.10,393.55 L482.10,393.69 L483.10,393.73 L484.10,393.59 L485.10,393.58 L486.10,393.67 L487.10,393.85 L488.10,393.93 L489.10,393.97 L490.10,394.09 L491.10,394.11 L492.10,394.27 L493.10,394.29 L494.10,394.14 L495.10,394.46 L496.10,394.65 L497.10,394.40 L498.10,394.31 L499.10,394.31 L500.10,394.28 L501.10,394.24 L502.10,394.29 L503.10,394.51 L504.10,394.59 L505.10,394.60 L506.10,394.76 L507.10,394.80 L508.10,394.59 L509.10,394.55 L510.10,394.85 L511.10,394.68 L512.10,394.13 L513.10,394.07 L514.10,394.41 L515.10,394.75 L516.10,394.80 L517.10,394.62 L518.10,394.63 L519.10,394.59 L520.10,394.45 L521.10,394.54 L522.10,394.59 L523.10,394.58 L524.10,394.49 L525.10,394.29 L526.10,394.32 L527.10,394.53 L528.10,394.60 L529.10,394.66 L530.10,394.73 L531.10,394.52 L532.10,394.32 L533.10,394.42 L534.10,394.53 L535.10,394.66 L536.10,394.83 L537.10,394.88 L538.10,394.88 L539.10,394.78 L540.10,394.71 L541.10,394.73 L542.10,394.66 L543.10,394.52 L544.10,394.44 L545.10,394.48 L546.10,394.56 L547.10,394.77 L548.10,395.13 L549.10,395.23 L550.10,394.95 L551.10,394.72 L552.10,394.72 L553.10,394.61 L554.10,394.46 L555.10,394.46 L556.10,394.44 L557.10,394.53 L558.10,394.67 L559.10,394.50 L560.10,394.44 L561.10,394.53 L562.10,394.34 L563.10,394.16 L564.10,394.28 L565.10,394.52 L566.10,394.60 L567.10,394.51 L568.10,394.32 L569.10,394.32 L570.10,394.39 L571.10,394.23 L572.10,394.13 L573.10,394.12 L574.10,394.19 L575.10,394.43 L576.10,394.32 L577.10,394.08 L578.10,394.26 L579.10,394.32 L580.10,394.37 L581.10,394.41 L582.10,394.22 L583.10,394.24 L584.10,394.33 L585.10,394.21 L586.10,394.11 L587.10,394.20 L588.10,394.11 L589.10,394.05 L590.10,394.29 L591.10,394.10 L592.10,393.66 L593.10,393.91 L593.30,394.34" fill="none" stroke="#880000" stroke-width="4.0" stroke-linejoin="round" stroke-linecap="butt"/><path d="M92.10,317.90 L92.35,317.90 L92.60,317.91 L92.85,317.91 L93.10,317.92 L93.35,317.93 L93.60,317.95 L93.85,317.97 L94.10,317.99 L94.35,318.27 L94.60,319.70 L94.85,321.98 L95.10,324.67 L95.35,327.36 L95.60,329.63 L95.85,331.04 L96.10,331.30 L96.35,331.30 L96.60,331.30 L96.85,331.30 L97.10,331.30 L97.35,331.30 L97.60,331.30 L97.85,331.30 L98.10,331.30 L98.35,331.30 L98.60,331.30 L98.85,331.30 L99.10,331.30 L99.35,331.30 L99.60,331.30 L99.85,331.30 L100.10,331.30 L100.35,331.30 L100.60,331.30 L100.85,331.30 L101.10,331.30 L101.35,331.30 L101.60,331.30 L101.85,331.30 L102.10,331.30 L102.35,331.30 L102.60,331.30 L102.85,331.30 L103.10,331.30 L103.35,331.30 L103.60,331.30 L103.85,331.30 L104.10,331.30 L104.35,331.30 L104.60,331.30 L104.85,331.30 L105.10,331.30 L105.35,331.30 L105.60,331.30 L105.85,331.30 L106.10,331.30 L106.35,331.30 L106.60,331.30 L106.85,331.30 L107.10,331.30 L107.35,331.30 L107.60,331.30 L107.85,331.30 L108.10,331.30 L108.35,331.30 L108.60,331.30 L108.85,331.30 L109.10,331.30 L109.35,331.30 L109.60,331.30 L109.85,331.29 L110.10,331.29 L110.35,331.29 L110.60,331.28 L110.85,331.28 L111.10,331.27 L111.35,331.27 L111.60,331.26 L111.85,331.25 L112.10,331.24 L113.10,331.21 L114.10,331.17 L115.10,331.12 L116.10,331.07 L117.10,331.01 L118.10,330.76 L119.10,330.72 L120.10,330.75 L121.10,330.67 L122.10,330.75 L123.10,330.80 L124.10,330.47 L125.10,330.07 L126.10,329.98 L127.10,330.15 L128.10,330.27 L129.10,330.26 L130.10,330.15 L131.10,330.04 L132.10,329.99 L133.10,330.05 L134.10,330.13 L135.10,330.13 L136.10,330.31 L137.10,330.53 L138.10,330.25 L139.10,330.05 L140.10,330.32 L141.10,330.25 L142.10,330.05 L143.10,330.18 L144.10,330.12 L145.10,329.93 L146.10,329.83 L147.10,329.85 L148.10,330.09 L149.10,330.23 L150.10,330.13 L151.10,330.26 L152.10,330.31 L153.10,330.02 L154.10,329.95 L155.10,329.91 L156.10,329.73 L157.10,329.75 L158.10,329.96 L159.10,330.04 L160.10,329.96 L161.10,330.03 L162.10,330.15 L163.10,330.18 L164.10,330.20 L165.10,330.17 L166.10,330.25 L167.10,330.38 L168.10,330.23 L169.10,330.08 L170.10,329.99 L171.10,329.80 L172.10,329.85 L173.10,330.08 L174.10,330.23 L175.10,330.23 L176.10,329.91 L177.10,329.80 L178.10,330.19 L179.10,330.14 L180.10,329.90 L181.10,330.01 L182.10,329.82 L183.10,329.49 L184.10,329.56 L185.10,329.84 L186.10,329.99 L187.10,329.79 L188.10,329.67 L189.10,329.70 L190.10,329.62 L191.10,329.61 L192.10,329.83 L193.10,330.03 L194.10,329.88 L195.10,329.55 L196.10,329.47 L197.10,329.60 L198.10,329.56 L199.10,329.40 L200.10,329.54 L201.10,329.98 L202.10,329.94 L203.10,329.68 L204.10,329.87 L205.10,329.78 L206.10,329.32 L207.10,329.32 L208.10,329.59 L209.10,329.71 L210.10,329.65 L211.10,329.57 L212.10,329.75 L213.10,330.12 L214.10,330.10 L215.10,329.61 L216.10,329.62 L217.10,329.88 L218.10,329.59 L219.10,329.38 L220.10,329.55 L221.10,329.73 L222.10,329.80 L223.10,329.61 L224.10,329.45 L225.10,329.55 L226.10,329.76 L227.10,329.85 L228.10,329.54 L229.10,329.16 L230.10,329.30 L231.10,329.58 L232.10,329.31 L233.10,328.98 L234.10,329.16 L235.10,329.49 L236.10,329.55 L237.10,329.40 L238.10,329.51 L239.10,329.54 L240.10,329.33 L241.10,329.45 L242.10,329.82 L243.10,329.90 L244.10,329.69 L245.10,329.59 L246.10,329.56 L247.10,329.41 L248.10,329.23 L249.10,329.17 L250.10,329.23 L251.10,329.54 L252.10,329.76 L253.10,329.61 L254.10,329.61 L255.10,329.60 L256.10,329.45 L257.10,329.26 L258.10,328.98 L259.10,329.15 L260.10,329.19 L261.10,328.79 L262.10,328.90 L263.10,329.28 L264.10,329.16 L265.10,328.95 L266.10,328.98 L267.10,329.12 L268.10,329.30 L269.10,329.29 L270.10,329.10 L271.10,329.01 L272.10,329.20 L273.10,329.40 L274.10,329.37 L275.10,329.26 L276.10,329.04 L277.10,328.81 L278.10,328.93 L279.10,329.16 L280.10,329.09 L281.10,328.79 L282.10,328.73 L283.10,328.92 L284.10,328.98 L285.10,328.94 L286.10,328.99 L287.10,329.09 L288.10,329.20 L289.10,329.31 L290.10,329.39 L291.10,329.40 L292.10,329.24 L293.10,329.01 L294.10,329.00 L295.10,329.05 L296.10,329.02 L297.10,329.15 L298.10,329.15 L299.10,328.77 L300.10,328.69 L301.10,329.01 L302.10,329.12 L303.10,328.95 L304.10,328.92 L305.10,329.18 L306.10,329.19 L307.10,328.93 L308.10,328.85 L309.10,328.88 L310.10,328.86 L311.10,328.74 L312.10,328.78 L313.10,329.01 L314.10,328.99 L315.10,328.89 L316.10,328.69 L317.10,328.51 L318.10,328.72 L319.10,328.82 L320.10,328.78 L321.10,328.75 L322.10,328.75 L323.10,328.84 L324.10,328.70 L325.10,328.53 L326.10,328.61 L327.10,328.84 L328.10,328.91 L329.10,328.64 L330.10,328.58 L331.10,328.76 L332.10,328.81 L333.10,328.90 L334.10,328.82 L335.10,328.60 L336.10,328.65 L337.10,328.88 L338.10,328.95 L339.10,328.90 L340.10,329.10 L341.10,329.19 L342.10,328.81 L343.10,328.44 L344.10,328.35 L345.10,328.36 L346.10,328.45 L347.10,328.45 L348.10,328.49 L349.10,328.49 L350.10,328.21 L351.10,328.45 L352.10,329.06 L353.10,329.13 L354.10,328.95 L355.10,329.00 L356.10,329.12 L357.10,328.98 L358.10,328.67 L359.10,328.50 L360.10,328.53 L361.10,328.52 L362.10,328.46 L363.10,328.52 L364.10,328.61 L365.10,328.72 L366.10,328.71 L367.10,328.53 L368.10,328.72 L369.10,329.02 L370.10,328.98 L371.10,329.01 L372.10,329.12 L373.10,329.10 L374.10,328.82 L375.10,328.50 L376.10,328.50 L377.10,328.47 L378.10,328.36 L379.10,328.37 L380.10,328.29 L381.10,328.32 L382.10,328.59 L383.10,328.65 L384.10,328.49 L385.10,328.43 L386.10,328.49 L387.10,328.55 L388.10,328.59 L389.10,328.62 L390.10,328.65 L391.10,328.78 L392.10,328.86 L393.10,328.75 L394.10,328.56 L395.10,328.57 L396.10,328.71 L397.10,328.70 L398.10,328.46 L399.10,328.03 L400.10,328.04 L401.10,328.56 L402.10,328.91 L403.10,329.04 L404.10,328.97 L405.10,328.81 L406.10,328.60 L407.10,328.53 L408.10,328.68 L409.10,328.72 L410.10,328.76 L411.10,328.81 L412.10,328.85 L413.10,328.85 L414.10,328.67 L415.10,328.52 L416.10,328.49 L417.10,328.72 L418.10,328.94 L419.10,328.90 L420.10,328.96 L421.10,329.03 L422.10,328.98 L423.10,328.83 L424.10,328.64 L425.10,328.83 L426.10,328.97 L427.10,328.73 L428.10,328.59 L429.10,328.62 L430.10,328.62 L431.10,328.70 L432.10,328.88 L433.10,328.66 L434.10,328.58 L435.10,328.99 L436.10,329.10 L437.10,328.95 L438.10,328.84 L439.10,328.69 L440.10,328.72 L441.10,328.92 L442.10,329.04 L443.10,329.00 L444.10,328.81 L445.10,328.66 L446.10,328.76 L447.10,329.04 L448.10,329.06 L449.10,328.77 L450.10,328.74 L451.10,328.98 L452.10,329.04 L453.10,328.82 L454.10,328.55 L455.10,328.52 L456.10,328.65 L457.10,328.60 L458.10,328.59 L459.10,328.86 L460.10,328.96 L461.10,328.76 L462.10,328.59 L463.10,328.77 L464.10,328.86 L465.10,328.63 L466.10,328.74 L467.10,328.86 L468.10,328.78 L469.10,328.83 L470.10,328.90 L471.10,329.01 L472.10,329.00 L473.10,329.04 L474.10,329.23 L475.10,329.22 L476.10,328.98 L477.10,328.64 L478.10,328.65 L479.10,328.96 L480.10,329.02 L481.10,328.93 L482.10,328.84 L483.10,328.70 L484.10,328.65 L485.10,328.65 L486.10,328.72 L487.10,328.70 L488.10,328.66 L489.10,328.93 L490.10,329.05 L491.10,328.75 L492.10,328.72 L493.10,328.92 L494.10,329.00 L495.10,329.12 L496.10,329.04 L497.10,328.90 L498.10,329.06 L499.10,329.24 L500.10,329.16 L501.10,329.02 L502.10,328.80 L503.10,328.53 L504.10,328.70 L505.10,329.11 L506.10,329.18 L507.10,329.08 L508.10,328.98 L509.10,328.86 L510.10,328.81 L511.10,328.79 L512.10,328.81 L513.10,328.78 L514.10,328.83 L515.10,328.92 L516.10,328.94 L517.10,329.02 L518.10,329.07 L519.10,329.13 L520.10,329.04 L521.10,328.63 L522.10,328.56 L523.10,328.97 L524.10,329.32 L525.10,329.43 L526.10,329.31 L527.10,329.07 L528.10,328.93 L529.10,329.06 L530.10,329.04 L531.10,328.75 L532.10,328.70 L533.10,328.89 L534.10,328.75 L535.10,328.49 L536.10,328.75 L537.10,329.01 L538.10,329.00 L539.10,329.06 L540.10,329.01 L541.10,328.90 L542.10,328.96 L543.10,328.92 L544.10,328.84 L545.10,329.10 L546.10,329.17 L547.10,328.75 L548.10,328.47 L549.10,328.77 L550.10,329.22 L551.10,329.17 L552.10,328.95 L553.10,328.83 L554.10,328.65 L555.10,328.64 L556.10,328.95 L557.10,328.96 L558.10,328.67 L559.10,328.67 L560.10,328.87 L561.10,329.05 L562.10,329.24 L563.10,329.45 L564.10,329.54 L565.10,329.54 L566.10,329.35 L567.10,329.00 L568.10,329.04 L569.10,329.32 L570.10,329.30 L571.10,329.01 L572.10,328.65 L573.10,328.73 L574.10,329.17 L575.10,329.28 L576.10,329.13 L577.10,328.94 L578.10,328.89 L579.10,329.21 L580.10,329.57 L581.10,329.60 L582.10,329.36 L583.10,329.10 L584.10,329.13 L585.10,329.51 L586.10,329.60 L587.10,329.32 L588.10,329.27 L589.10,329.26 L590.10,328.97 L591.10,328.77 L592.10,329.06 L593.10,329.25 L593.30,329.10" fill="none" stroke="#466E0A" stroke-width="4.0" stroke-linejoin="round" stroke-linecap="butt"/><path d="M92.90,296.00 L93.15,296.53 L93.40,297.06 L93.65,297.43 L93.90,297.50 L94.15,297.48 L94.40,297.44 L94.65,297.38 L94.90,297.30 L95.15,297.21 L95.40,297.10 L95.65,296.98 L95.90,296.85 L96.15,296.70 L96.40,296.55 L96.65,296.39 L96.90,296.22 L97.15,296.05 L97.40,295.88 L97.65,295.70 L97.90,295.52 L98.15,295.34 L98.40,295.17 L98.65,295.00 L98.90,294.84 L99.15,294.68 L99.40,294.53 L99.65,294.39 L99.90,294.26 L100.15,294.14 L100.40,294.03 L100.65,293.95 L100.90,293.87 L101.15,293.80 L101.40,293.73 L101.65,293.67 L101.90,293.60 L102.15,293.54 L102.40,293.47 L102.65,293.41 L102.90,293.35 L103.15,293.29 L103.40,293.23 L103.65,293.18 L103.90,293.12 L104.15,293.06 L104.40,293.01 L104.65,292.95 L104.90,292.90 L105.15,292.85 L105.40,292.80 L105.65,292.75 L105.90,292.70 L106.15,292.65 L106.40,292.60 L106.65,292.56 L106.90,292.51 L107.15,292.46 L107.40,292.42 L107.65,292.38 L107.90,292.33 L108.15,292.29 L108.40,292.25 L108.65,292.21 L108.90,292.17 L109.15,292.13 L109.40,292.09 L109.65,292.05 L109.90,292.01 L110.15,291.97 L110.40,291.93 L110.65,291.90 L110.90,291.86 L111.15,291.82 L111.40,291.79 L111.65,291.75 L111.90,291.72 L112.15,291.68 L112.40,291.65 L112.65,291.62 L112.90,291.58 L113.90,291.45 L114.90,291.32 L115.90,291.19 L116.90,291.06 L117.90,290.94 L118.90,290.86 L119.90,290.74 L120.90,290.51 L121.90,290.48 L122.90,290.59 L123.90,290.40 L124.90,290.18 L125.90,290.13 L126.90,289.80 L127.90,289.45 L128.90,289.50 L129.90,289.62 L130.90,289.61 L131.90,289.63 L132.90,289.61 L133.90,289.46 L134.90,289.46 L135.90,289.35 L136.90,288.80 L137.90,288.57 L138.90,288.70 L139.90,288.50 L140.90,288.30 L141.90,288.44 L142.90,288.40 L143.90,288.34 L144.90,288.75 L145.90,289.06 L146.90,288.89 L147.90,288.58 L148.90,288.39 L149.90,288.29 L150.90,288.29 L151.90,288.30 L152.90,288.30 L153.90,288.34 L154.90,288.45 L155.90,288.53 L156.90,288.30 L157.90,287.78 L158.90,287.65 L159.90,287.90 L160.90,287.97 L161.90,288.02 L162.90,288.04 L163.90,288.04 L164.90,288.10 L165.90,288.06 L166.90,287.86 L167.90,287.81 L168.90,287.97 L169.90,287.98 L170.90,287.91 L171.90,287.91 L172.90,287.88 L173.90,287.74 L174.90,287.61 L175.90,287.50 L176.90,287.33 L177.90,287.28 L178.90,287.34 L179.90,287.28 L180.90,287.39 L181.90,287.58 L182.90,287.32 L183.90,287.36 L184.90,287.60 L185.90,287.39 L186.90,287.33 L187.90,287.33 L188.90,287.04 L189.90,286.71 L190.90,286.69 L191.90,286.96 L192.90,286.91 L193.90,286.67 L194.90,286.76 L195.90,286.93 L196.90,287.04 L197.90,286.94 L198.90,286.71 L199.90,286.71 L200.90,286.91 L201.90,287.30 L202.90,287.45 L203.90,287.09 L204.90,286.84 L205.90,286.84 L206.90,286.81 L207.90,286.82 L208.90,286.78 L209.90,286.60 L210.90,286.49 L211.90,286.63 L212.90,286.75 L213.90,286.77 L214.90,286.88 L215.90,286.79 L216.90,286.69 L217.90,286.66 L218.90,286.50 L219.90,286.69 L220.90,286.81 L221.90,286.49 L222.90,286.40 L223.90,286.62 L224.90,286.70 L225.90,286.53 L226.90,286.45 L227.90,286.48 L228.90,286.27 L229.90,286.03 L230.90,286.08 L231.90,286.05 L232.90,285.96 L233.90,286.04 L234.90,286.12 L235.90,286.07 L236.90,285.84 L237.90,285.69 L238.90,285.86 L239.90,286.28 L240.90,286.52 L241.90,286.54 L242.90,286.49 L243.90,286.38 L244.90,286.09 L245.90,285.79 L246.90,285.84 L247.90,285.87 L248.90,285.73 L249.90,285.80 L250.90,286.05 L251.90,285.91 L252.90,285.68 L253.90,285.82 L254.90,285.79 L255.90,285.62 L256.90,285.60 L257.90,285.44 L258.90,285.18 L259.90,285.34 L260.90,285.73 L261.90,285.85 L262.90,285.68 L263.90,285.46 L264.90,285.47 L265.90,285.68 L266.90,285.70 L267.90,285.45 L268.90,285.46 L269.90,285.72 L270.90,285.67 L271.90,285.45 L272.90,285.34 L273.90,285.51 L274.90,285.84 L275.90,285.79 L276.90,285.41 L277.90,285.39 L278.90,285.80 L279.90,285.99 L280.90,285.88 L281.90,285.53 L282.90,285.06 L283.90,285.07 L284.90,285.36 L285.90,285.41 L286.90,285.35 L287.90,285.24 L288.90,285.24 L289.90,285.34 L290.90,285.30 L291.90,285.30 L292.90,285.37 L293.90,285.45 L294.90,285.62 L295.90,285.49 L296.90,285.11 L297.90,285.02 L298.90,285.16 L299.90,285.20 L300.90,285.15 L301.90,285.30 L302.90,285.42 L303.90,285.25 L304.90,285.02 L305.90,284.93 L306.90,284.96 L307.90,285.18 L308.90,285.18 L309.90,284.85 L310.90,284.80 L311.90,284.93 L312.90,285.09 L313.90,285.26 L314.90,285.18 L315.90,284.97 L316.90,284.99 L317.90,285.21 L318.90,285.24 L319.90,285.16 L320.90,284.89 L321.90,284.48 L322.90,284.39 L323.90,284.64 L324.90,284.88 L325.90,284.93 L326.90,284.99 L327.90,285.04 L328.90,285.07 L329.90,285.11 L330.90,284.87 L331.90,284.56 L332.90,284.77 L333.90,285.02 L334.90,284.95 L335.90,285.15 L336.90,285.21 L337.90,284.92 L338.90,284.73 L339.90,284.69 L340.90,284.77 L341.90,284.64 L342.90,284.48 L343.90,284.58 L344.90,284.64 L345.90,284.67 L346.90,284.76 L347.90,284.71 L348.90,284.73 L349.90,285.09 L350.90,285.28 L351.90,284.93 L352.90,284.55 L353.90,284.57 L354.90,284.74 L355.90,284.75 L356.90,284.55 L357.90,284.29 L358.90,284.26 L359.90,284.51 L360.90,284.77 L361.90,284.54 L362.90,284.30 L363.90,284.68 L364.90,285.07 L365.90,284.80 L366.90,284.35 L367.90,284.56 L368.90,284.92 L369.90,284.86 L370.90,284.56 L371.90,284.33 L372.90,284.44 L373.90,284.66 L374.90,284.83 L375.90,284.84 L376.90,284.79 L377.90,284.73 L378.90,284.53 L379.90,284.49 L380.90,284.69 L381.90,284.77 L382.90,284.80 L383.90,284.92 L384.90,284.80 L385.90,284.58 L386.90,284.55 L387.90,284.47 L388.90,284.33 L389.90,284.49 L390.90,284.90 L391.90,284.84 L392.90,284.60 L393.90,284.84 L394.90,284.93 L395.90,284.77 L396.90,284.95 L397.90,285.16 L398.90,284.98 L399.90,284.90 L400.90,284.84 L401.90,284.51 L402.90,284.27 L403.90,284.34 L404.90,284.64 L405.90,284.77 L406.90,284.51 L407.90,284.41 L408.90,284.59 L409.90,284.71 L410.90,284.77 L411.90,284.73 L412.90,284.66 L413.90,284.69 L414.90,284.63 L415.90,284.45 L416.90,284.58 L417.90,285.17 L418.90,285.50 L419.90,285.04 L420.90,284.54 L421.90,284.69 L422.90,284.79 L423.90,284.50 L424.90,284.46 L425.90,284.53 L426.90,284.46 L427.90,284.59 L428.90,284.79 L429.90,284.72 L430.90,284.80 L431.90,284.93 L432.90,284.56 L433.90,284.38 L434.90,284.85 L435.90,285.16 L436.90,284.97 L437.90,284.69 L438.90,284.45 L439.90,284.58 L440.90,285.02 L441.90,285.13 L442.90,284.89 L443.90,284.57 L444.90,284.38 L445.90,284.34 L446.90,284.49 L447.90,284.67 L448.90,284.60 L449.90,284.64 L450.90,284.87 L451.90,284.91 L452.90,284.84 L453.90,284.82 L454.90,284.60 L455.90,284.38 L456.90,284.51 L457.90,284.62 L458.90,284.65 L459.90,284.69 L460.90,284.76 L461.90,284.88 L462.90,284.82 L463.90,284.78 L464.90,284.79 L465.90,284.79 L466.90,284.90 L467.90,284.98 L468.90,284.85 L469.90,284.59 L470.90,284.47 L471.90,284.55 L472.90,284.52 L473.90,284.34 L474.90,284.33 L475.90,284.41 L476.90,284.44 L477.90,284.59 L478.90,284.85 L479.90,284.98 L480.90,284.87 L481.90,284.59 L482.90,284.50 L483.90,284.78 L484.90,285.17 L485.90,285.14 L486.90,284.85 L487.90,285.01 L488.90,285.11 L489.90,284.76 L490.90,284.76 L491.90,285.05 L492.90,284.93 L493.90,284.80 L494.90,285.04 L495.90,285.15 L496.90,284.88 L497.90,284.61 L498.90,284.77 L499.90,285.05 L500.90,285.06 L501.90,284.95 L502.90,284.95 L503.90,285.02 L504.90,284.97 L505.90,284.97 L506.90,284.86 L507.90,284.80 L508.90,284.88 L509.90,284.66 L510.90,284.59 L511.90,284.66 L512.90,284.43 L513.90,284.38 L514.90,284.61 L515.90,284.72 L516.90,284.79 L517.90,285.10 L518.90,285.24 L519.90,285.18 L520.90,285.26 L521.90,285.09 L522.90,284.62 L523.90,284.24 L524.90,284.37 L525.90,284.82 L526.90,284.91 L527.90,284.79 L528.90,284.92 L529.90,285.00 L530.90,284.71 L531.90,284.45 L532.90,284.53 L533.90,284.76 L534.90,284.97 L535.90,284.96 L536.90,284.80 L537.90,284.79 L538.90,284.86 L539.90,284.98 L540.90,285.21 L541.90,285.19 L542.90,284.89 L543.90,284.71 L544.90,284.70 L545.90,284.74 L546.90,284.80 L547.90,284.82 L548.90,284.74 L549.90,284.61 L550.90,284.65 L551.90,285.07 L552.90,285.44 L553.90,285.33 L554.90,285.16 L555.90,285.08 L556.90,285.15 L557.90,285.29 L558.90,285.02 L559.90,284.68 L560.90,284.71 L561.90,284.84 L562.90,284.77 L563.90,284.69 L564.90,284.67 L565.90,284.73 L566.90,284.79 L567.90,284.95 L568.90,285.05 L569.90,284.64 L570.90,284.57 L571.90,284.98 L572.90,285.11 L573.90,285.07 L574.90,285.11 L575.90,285.15 L576.90,285.18 L577.90,285.23 L578.90,285.19 L579.90,285.10 L580.90,285.16 L581.90,285.25 L582.90,285.23 L583.90,285.36 L584.90,285.50 L585.90,285.46 L586.90,285.37 L587.90,285.22 L588.90,285.23 L589.90,285.31 L590.90,285.31 L591.90,285.42 L592.90,285.46 L593.30,285.27" fill="none" stroke="#000A7A" stroke-width="3.5" stroke-linejoin="round" stroke-linecap="butt"/><path d="M89.5,451.50h12 M89.5,378.94h12 M89.5,306.38h12 M89.5,415.22h6 M89.5,342.66h6 M89.5,270.09h6 M92.80,451.5v-12 M260.10,451.5v-12 M427.40,451.5v-12 M594.70,451.5v-12 M176.45,451.5v-6 M343.75,451.5v-6 M511.05,451.5v-6" stroke="#000" stroke-width="2" fill="none"/><rect x="89.5" y="258.0" width="589.5" height="193.5" fill="none" stroke="#000" stroke-width="2"/><text x="76.0" y="459.40" font-family="Liberation Serif" font-weight="bold" font-size="27.5" text-anchor="end">0</text><text x="76.0" y="386.84" font-family="Liberation Serif" font-weight="bold" font-size="27.5" text-anchor="end">15</text><text x="76.0" y="314.27" font-family="Liberation Serif" font-weight="bold" font-size="27.5" text-anchor="end">30</text><path d="M92.30,550.90 L92.55,555.43 L92.80,559.72 L93.05,563.73 L93.30,567.43 L93.55,570.77 L93.80,573.80 L94.05,576.60 L94.30,579.20 L94.55,581.58 L94.80,583.78 L95.05,585.80 L95.30,587.74 L95.55,589.59 L95.80,591.34 L96.05,592.99 L96.30,594.53 L96.55,595.94 L96.80,597.23 L97.05,598.39 L97.30,599.51 L97.55,600.60 L97.80,601.65 L98.05,602.66 L98.30,603.64 L98.55,604.58 L98.80,605.47 L99.05,606.32 L99.30,607.13 L99.55,607.88 L99.80,608.59 L100.05,609.25 L100.30,609.85 L100.55,610.41 L100.80,610.90 L101.05,611.36 L101.30,611.80 L101.55,612.23 L101.80,612.64 L102.05,613.03 L102.30,613.41 L102.55,613.78 L102.80,614.13 L103.05,614.46 L103.30,614.79 L103.55,615.09 L103.80,615.39 L104.05,615.67 L104.30,615.94 L104.55,616.19 L104.80,616.44 L105.05,616.66 L105.30,616.88 L105.55,617.09 L105.80,617.28 L106.05,617.46 L106.30,617.64 L106.55,617.81 L106.80,617.98 L107.05,618.14 L107.30,618.30 L107.55,618.46 L107.80,618.61 L108.05,618.76 L108.30,618.91 L108.55,619.05 L108.80,619.19 L109.05,619.33 L109.30,619.47 L109.55,619.60 L109.80,619.73 L110.05,619.85 L110.30,619.98 L110.55,620.10 L110.80,620.22 L111.05,620.34 L111.30,620.45 L111.55,620.56 L111.80,620.67 L112.05,620.78 L112.30,620.88 L113.30,621.28 L114.30,621.65 L115.30,621.99 L116.30,622.31 L117.30,622.60 L118.30,622.70 L119.30,623.18 L120.30,623.68 L121.30,623.91 L122.30,624.00 L123.30,624.18 L124.30,624.38 L125.30,624.66 L126.30,624.82 L127.30,624.79 L128.30,624.78 L129.30,624.87 L130.30,624.70 L131.30,624.73 L132.30,625.15 L133.30,625.46 L134.30,625.99 L135.30,626.34 L136.30,626.02 L137.30,625.92 L138.30,626.27 L139.30,626.45 L140.30,626.43 L141.30,626.54 L142.30,626.81 L143.30,626.79 L144.30,626.62 L145.30,626.76 L146.30,626.86 L147.30,626.87 L148.30,627.00 L149.30,627.19 L150.30,627.48 L151.30,627.59 L152.30,627.49 L153.30,627.47 L154.30,627.38 L155.30,627.19 L156.30,627.43 L157.30,627.68 L158.30,627.71 L159.30,627.89 L160.30,628.01 L161.30,628.19 L162.30,628.38 L163.30,628.58 L164.30,628.52 L165.30,628.47 L166.30,629.01 L167.30,629.28 L168.30,629.03 L169.30,628.91 L170.30,628.90 L171.30,629.04 L172.30,629.32 L173.30,629.32 L174.30,629.24 L175.30,629.23 L176.30,629.19 L177.30,629.42 L178.30,629.84 L179.30,630.01 L180.30,630.07 L181.30,629.97 L182.30,629.82 L183.30,629.87 L184.30,630.00 L185.30,630.13 L186.30,630.18 L187.30,630.10 L188.30,630.00 L189.30,630.35 L190.30,630.78 L191.30,630.55 L192.30,630.42 L193.30,630.88 L194.30,631.01 L195.30,630.69 L196.30,630.66 L197.30,630.63 L198.30,630.67 L199.30,631.07 L200.30,631.24 L201.30,631.14 L202.30,631.15 L203.30,631.27 L204.30,631.27 L205.30,631.19 L206.30,631.05 L207.30,631.24 L208.30,631.64 L209.30,631.64 L210.30,631.61 L211.30,631.62 L212.30,631.52 L213.30,631.62 L214.30,631.80 L215.30,631.76 L216.30,631.74 L217.30,631.96 L218.30,632.21 L219.30,632.23 L220.30,632.03 L221.30,631.72 L222.30,631.72 L223.30,632.18 L224.30,632.35 L225.30,632.20 L226.30,632.29 L227.30,632.45 L228.30,632.52 L229.30,632.42 L230.30,632.36 L231.30,632.37 L232.30,632.23 L233.30,632.37 L234.30,632.59 L235.30,632.77 L236.30,633.02 L237.30,632.77 L238.30,632.09 L239.30,631.98 L240.30,632.30 L241.30,632.30 L242.30,632.43 L243.30,632.48 L244.30,631.98 L245.30,631.89 L246.30,632.36 L247.30,632.57 L248.30,632.53 L249.30,632.48 L250.30,632.25 L251.30,632.17 L252.30,632.33 L253.30,632.24 L254.30,632.26 L255.30,632.62 L256.30,632.81 L257.30,632.71 L258.30,632.50 L259.30,632.40 L260.30,632.39 L261.30,632.51 L262.30,632.68 L263.30,632.72 L264.30,632.88 L265.30,633.22 L266.30,633.22 L267.30,632.92 L268.30,632.95 L269.30,633.02 L270.30,632.78 L271.30,632.59 L272.30,632.80 L273.30,633.11 L274.30,633.09 L275.30,633.01 L276.30,633.13 L277.30,633.30 L278.30,632.97 L279.30,632.53 L280.30,632.50 L281.30,632.25 L282.30,632.14 L283.30,632.84 L284.30,633.44 L285.30,633.24 L286.30,632.86 L287.30,633.03 L288.30,633.43 L289.30,633.45 L290.30,633.33 L291.30,633.32 L292.30,633.44 L293.30,633.61 L294.30,633.62 L295.30,633.39 L296.30,633.27 L297.30,633.36 L298.30,633.49 L299.30,633.51 L300.30,633.33 L301.30,633.35 L302.30,633.38 L303.30,633.47 L304.30,634.00 L305.30,634.09 L306.30,633.79 L307.30,633.83 L308.30,633.56 L309.30,633.19 L310.30,633.49 L311.30,633.78 L312.30,633.67 L313.30,633.54 L314.30,633.62 L315.30,633.91 L316.30,634.16 L317.30,634.11 L318.30,634.13 L319.30,634.23 L320.30,633.97 L321.30,633.64 L322.30,633.74 L323.30,634.30 L324.30,634.56 L325.30,634.48 L326.30,634.38 L327.30,634.26 L328.30,634.20 L329.30,634.13 L330.30,634.14 L331.30,634.40 L332.30,634.67 L333.30,634.57 L334.30,634.29 L335.30,634.13 L336.30,634.33 L337.30,634.73 L338.30,634.71 L339.30,634.47 L340.30,634.26 L341.30,634.18 L342.30,634.46 L343.30,634.67 L344.30,634.54 L345.30,634.46 L346.30,634.54 L347.30,634.44 L348.30,634.28 L349.30,634.34 L350.30,634.58 L351.30,634.73 L352.30,634.73 L353.30,634.98 L354.30,635.16 L355.30,634.84 L356.30,634.68 L357.30,634.83 L358.30,634.79 L359.30,634.73 L360.30,635.14 L361.30,635.42 L362.30,635.11 L363.30,634.80 L364.30,634.79 L365.30,634.84 L366.30,634.68 L367.30,634.83 L368.30,635.15 L369.30,635.18 L370.30,635.45 L371.30,635.65 L372.30,635.47 L373.30,635.57 L374.30,635.69 L375.30,635.34 L376.30,634.94 L377.30,634.90 L378.30,635.31 L379.30,635.75 L380.30,635.60 L381.30,635.14 L382.30,635.00 L383.30,635.20 L384.30,635.38 L385.30,635.42 L386.30,635.48 L387.30,635.50 L388.30,635.42 L389.30,635.45 L390.30,635.52 L391.30,635.56 L392.30,635.83 L393.30,636.08 L394.30,635.90 L395.30,635.45 L396.30,635.25 L397.30,635.27 L398.30,635.05 L399.30,635.18 L400.30,635.74 L401.30,635.88 L402.30,635.51 L403.30,635.23 L404.30,635.33 L405.30,635.58 L406.30,636.03 L407.30,636.33 L408.30,635.95 L409.30,635.47 L410.30,635.41 L411.30,635.61 L412.30,635.61 L413.30,635.54 L414.30,635.58 L415.30,635.71 L416.30,636.08 L417.30,636.34 L418.30,636.18 L419.30,635.95 L420.30,635.94 L421.30,635.89 L422.30,635.78 L423.30,635.66 L424.30,635.45 L425.30,635.58 L426.30,635.96 L427.30,636.05 L428.30,636.14 L429.30,636.06 L430.30,635.66 L431.30,635.68 L432.30,636.05 L433.30,636.13 L434.30,636.15 L435.30,636.30 L436.30,636.13 L437.30,635.77 L438.30,635.88 L439.30,636.28 L440.30,636.15 L441.30,635.96 L442.30,636.35 L443.30,636.65 L444.30,636.55 L445.30,636.27 L446.30,636.02 L447.30,636.27 L448.30,636.71 L449.30,636.73 L450.30,636.59 L451.30,636.39 L452.30,636.13 L453.30,635.97 L454.30,636.23 L455.30,636.45 L456.30,636.38 L457.30,636.59 L458.30,636.55 L459.30,636.23 L460.30,636.22 L461.30,636.36 L462.30,636.43 L463.30,636.35 L464.30,636.32 L465.30,636.35 L466.30,636.24 L467.30,636.27 L468.30,636.66 L469.30,636.77 L470.30,636.53 L471.30,636.57 L472.30,636.59 L473.30,636.68 L474.30,636.94 L475.30,637.10 L476.30,637.18 L477.30,637.06 L478.30,637.03 L479.30,637.00 L480.30,637.01 L481.30,637.20 L482.30,637.31 L483.30,637.36 L484.30,637.22 L485.30,637.06 L486.30,637.22 L487.30,637.51 L488.30,637.55 L489.30,637.37 L490.30,637.20 L491.30,637.22 L492.30,637.41 L493.30,637.23 L494.30,637.11 L495.30,637.58 L496.30,637.77 L497.30,637.39 L498.30,637.26 L499.30,637.37 L500.30,637.52 L501.30,637.71 L502.30,637.64 L503.30,637.70 L504.30,637.87 L505.30,637.87 L506.30,637.84 L507.30,637.65 L508.30,637.38 L509.30,637.64 L510.30,638.16 L511.30,638.16 L512.30,638.01 L513.30,638.04 L514.30,638.04 L515.30,638.23 L516.30,638.29 L517.30,637.74 L518.30,637.32 L519.30,637.30 L520.30,637.47 L521.30,637.85 L522.30,637.84 L523.30,637.32 L524.30,637.07 L525.30,637.37 L526.30,637.32 L527.30,636.85 L528.30,636.86 L529.30,637.02 L530.30,636.99 L531.30,636.74 L532.30,636.45 L533.30,636.23 L534.30,636.38 L535.30,636.81 L536.30,636.72 L537.30,636.24 L538.30,635.80 L539.30,635.60 L540.30,635.79 L541.30,635.96 L542.30,635.92 L543.30,635.74 L544.30,635.57 L545.30,635.65 L546.30,635.89 L547.30,636.23 L548.30,636.26 L549.30,635.79 L550.30,635.50 L551.30,635.53 L552.30,635.47 L553.30,635.46 L554.30,635.49 L555.30,635.54 L556.30,635.72 L557.30,635.79 L558.30,635.75 L559.30,635.64 L560.30,635.45 L561.30,635.43 L562.30,635.55 L563.30,635.66 L564.30,635.79 L565.30,635.68 L566.30,635.53 L567.30,635.56 L568.30,635.51 L569.30,635.57 L570.30,635.55 L571.30,635.46 L572.30,635.78 L573.30,636.03 L574.30,635.97 L575.30,635.92 L576.30,635.87 L577.30,635.86 L578.30,635.96 L579.30,636.10 L580.30,636.11 L581.30,636.10 L582.30,636.32 L583.30,636.49 L584.30,636.44 L585.30,636.51 L586.30,636.52 L587.30,636.43 L588.30,636.71 L589.30,636.98 L590.30,637.05 L591.30,637.04 L592.30,636.94 L592.60,636.97" fill="none" stroke="#880000" stroke-width="4.0" stroke-linejoin="round" stroke-linecap="butt"/><path d="M92.70,533.60 L92.95,534.66 L93.20,535.75 L93.45,536.86 L93.70,538.00 L93.95,539.17 L94.20,540.35 L94.45,541.56 L94.70,542.86 L94.95,544.33 L95.20,545.84 L95.45,547.25 L95.70,548.42 L95.95,549.23 L96.20,549.86 L96.45,550.44 L96.70,550.97 L96.95,551.46 L97.20,551.90 L97.45,552.29 L97.70,552.64 L97.95,552.96 L98.20,553.23 L98.45,553.47 L98.70,553.68 L98.95,553.87 L99.20,554.05 L99.45,554.22 L99.70,554.38 L99.95,554.52 L100.20,554.66 L100.45,554.80 L100.70,554.92 L100.95,555.04 L101.20,555.15 L101.45,555.25 L101.70,555.35 L101.95,555.45 L102.20,555.55 L102.45,555.64 L102.70,555.73 L102.95,555.81 L103.20,555.90 L103.45,555.99 L103.70,556.07 L103.95,556.15 L104.20,556.23 L104.45,556.30 L104.70,556.38 L104.95,556.45 L105.20,556.52 L105.45,556.59 L105.70,556.65 L105.95,556.72 L106.20,556.78 L106.45,556.84 L106.70,556.91 L106.95,556.97 L107.20,557.02 L107.45,557.08 L107.70,557.14 L107.95,557.20 L108.20,557.25 L108.45,557.31 L108.70,557.36 L108.95,557.42 L109.20,557.47 L109.45,557.53 L109.70,557.58 L109.95,557.64 L110.20,557.70 L110.45,557.75 L110.70,557.81 L110.95,557.87 L111.20,557.93 L111.45,557.99 L111.70,558.05 L111.95,558.11 L112.20,558.17 L112.45,558.24 L112.70,558.31 L113.70,558.58 L114.70,558.86 L115.70,559.16 L116.70,559.45 L117.70,559.75 L118.70,560.01 L119.70,560.17 L120.70,560.53 L121.70,560.77 L122.70,560.82 L123.70,560.88 L124.70,561.24 L125.70,561.54 L126.70,561.62 L127.70,562.00 L128.70,562.34 L129.70,562.31 L130.70,562.29 L131.70,562.59 L132.70,562.81 L133.70,562.71 L134.70,562.83 L135.70,563.14 L136.70,563.35 L137.70,563.37 L138.70,563.58 L139.70,564.07 L140.70,563.93 L141.70,563.52 L142.70,563.64 L143.70,564.05 L144.70,564.12 L145.70,564.04 L146.70,564.11 L147.70,564.00 L148.70,564.15 L149.70,564.74 L150.70,564.97 L151.70,564.70 L152.70,564.69 L153.70,564.81 L154.70,564.67 L155.70,564.77 L156.70,565.05 L157.70,565.20 L158.70,565.11 L159.70,565.06 L160.70,565.05 L161.70,565.03 L162.70,565.15 L163.70,565.06 L164.70,564.95 L165.70,565.14 L166.70,565.42 L167.70,565.56 L168.70,565.58 L169.70,565.76 L170.70,565.84 L171.70,565.57 L172.70,565.51 L173.70,565.81 L174.70,565.66 L175.70,565.21 L176.70,565.37 L177.70,565.62 L178.70,565.52 L179.70,565.43 L180.70,565.56 L181.70,565.94 L182.70,566.17 L183.70,566.32 L184.70,566.43 L185.70,566.21 L186.70,566.32 L187.70,566.51 L188.70,566.28 L189.70,566.17 L190.70,566.15 L191.70,566.51 L192.70,566.93 L193.70,566.64 L194.70,566.59 L195.70,566.88 L196.70,566.65 L197.70,566.48 L198.70,566.48 L199.70,566.47 L200.70,566.93 L201.70,567.25 L202.70,567.09 L203.70,566.88 L204.70,566.86 L205.70,566.62 L206.70,566.19 L207.70,566.49 L208.70,566.69 L209.70,566.53 L210.70,566.78 L211.70,566.96 L212.70,566.96 L213.70,567.08 L214.70,567.22 L215.70,567.10 L216.70,566.88 L217.70,566.94 L218.70,567.07 L219.70,567.07 L220.70,567.15 L221.70,567.49 L222.70,567.79 L223.70,567.95 L224.70,568.03 L225.70,567.79 L226.70,567.31 L227.70,567.10 L228.70,567.26 L229.70,567.45 L230.70,567.55 L231.70,567.82 L232.70,567.88 L233.70,567.67 L234.70,567.62 L235.70,567.39 L236.70,567.07 L237.70,567.10 L238.70,567.15 L239.70,567.20 L240.70,567.69 L241.70,567.91 L242.70,567.54 L243.70,567.66 L244.70,568.06 L245.70,568.01 L246.70,567.81 L247.70,567.85 L248.70,568.03 L249.70,567.88 L250.70,567.35 L251.70,566.88 L252.70,567.07 L253.70,567.71 L254.70,568.09 L255.70,568.29 L256.70,568.09 L257.70,567.78 L258.70,568.05 L259.70,568.21 L260.70,567.91 L261.70,568.03 L262.70,568.21 L263.70,567.77 L264.70,567.78 L265.70,568.26 L266.70,568.18 L267.70,567.76 L268.70,567.78 L269.70,568.27 L270.70,568.63 L271.70,568.60 L272.70,568.60 L273.70,568.69 L274.70,568.43 L275.70,568.38 L276.70,568.55 L277.70,568.27 L278.70,568.18 L279.70,568.50 L280.70,568.62 L281.70,568.36 L282.70,568.07 L283.70,568.04 L284.70,568.38 L285.70,568.68 L286.70,568.58 L287.70,568.39 L288.70,568.37 L289.70,568.31 L290.70,568.34 L291.70,568.64 L292.70,568.82 L293.70,568.66 L294.70,568.51 L295.70,568.39 L296.70,568.34 L297.70,568.42 L298.70,568.64 L299.70,568.72 L300.70,568.62 L301.70,568.65 L302.70,568.64 L303.70,568.65 L304.70,568.64 L305.70,568.60 L306.70,568.79 L307.70,569.03 L308.70,569.12 L309.70,569.06 L310.70,568.85 L311.70,568.94 L312.70,569.02 L313.70,568.59 L314.70,568.49 L315.70,568.98 L316.70,569.25 L317.70,569.09 L318.70,569.24 L319.70,569.38 L320.70,569.08 L321.70,569.11 L322.70,569.30 L323.70,568.96 L324.70,568.83 L325.70,569.05 L326.70,569.18 L327.70,569.37 L328.70,569.15 L329.70,568.79 L330.70,568.98 L331.70,569.08 L332.70,569.11 L333.70,569.12 L334.70,568.75 L335.70,568.64 L336.70,569.02 L337.70,569.15 L338.70,568.88 L339.70,568.83 L340.70,568.83 L341.70,568.78 L342.70,568.87 L343.70,568.92 L344.70,569.08 L345.70,569.20 L346.70,569.03 L347.70,568.90 L348.70,568.91 L349.70,568.86 L350.70,568.77 L351.70,568.93 L352.70,569.17 L353.70,569.57 L354.70,569.94 L355.70,569.65 L356.70,569.26 L357.70,569.12 L358.70,569.15 L359.70,569.29 L360.70,569.54 L361.70,569.75 L362.70,569.47 L363.70,569.23 L364.70,569.30 L365.70,569.31 L366.70,569.59 L367.70,570.01 L368.70,570.09 L369.70,570.00 L370.70,569.84 L371.70,569.49 L372.70,569.22 L373.70,569.29 L374.70,569.55 L375.70,569.87 L376.70,570.03 L377.70,569.81 L378.70,569.78 L379.70,570.19 L380.70,570.22 L381.70,569.86 L382.70,569.83 L383.70,569.93 L384.70,569.85 L385.70,569.82 L386.70,569.89 L387.70,569.88 L388.70,569.68 L389.70,569.30 L390.70,569.49 L391.70,569.88 L392.70,569.76 L393.70,569.84 L394.70,570.03 L395.70,569.90 L396.70,569.88 L397.70,570.10 L398.70,570.08 L399.70,569.74 L400.70,569.56 L401.70,569.68 L402.70,569.66 L403.70,569.67 L404.70,570.00 L405.70,570.27 L406.70,570.28 L407.70,570.12 L408.70,570.12 L409.70,570.36 L410.70,570.62 L411.70,570.74 L412.70,570.36 L413.70,570.06 L414.70,570.48 L415.70,570.79 L416.70,570.44 L417.70,570.07 L418.70,570.22 L419.70,570.51 L420.70,570.32 L421.70,570.15 L422.70,570.08 L423.70,569.90 L424.70,569.86 L425.70,569.90 L426.70,570.13 L427.70,570.46 L428.70,570.49 L429.70,570.38 L430.70,570.39 L431.70,570.12 L432.70,569.96 L433.70,570.25 L434.70,570.37 L435.70,570.05 L436.70,569.81 L437.70,570.15 L438.70,570.49 L439.70,570.60 L440.70,570.63 L441.70,570.70 L442.70,570.95 L443.70,570.91 L444.70,570.38 L445.70,569.74 L446.70,569.92 L447.70,570.65 L448.70,570.86 L449.70,570.72 L450.70,570.52 L451.70,570.53 L452.70,570.57 L453.70,570.59 L454.70,570.65 L455.70,570.50 L456.70,570.48 L457.70,570.60 L458.70,570.80 L459.70,570.82 L460.70,570.57 L461.70,570.64 L462.70,570.83 L463.70,570.87 L464.70,570.71 L465.70,570.63 L466.70,570.91 L467.70,571.16 L468.70,571.07 L469.70,570.91 L470.70,570.68 L471.70,570.39 L472.70,570.44 L473.70,570.59 L474.70,570.55 L475.70,570.57 L476.70,570.76 L477.70,571.11 L478.70,571.22 L479.70,570.79 L480.70,570.67 L481.70,570.99 L482.70,570.90 L483.70,570.86 L484.70,571.10 L485.70,570.97 L486.70,570.73 L487.70,570.62 L488.70,570.65 L489.70,570.73 L490.70,571.00 L491.70,571.42 L492.70,571.27 L493.70,570.85 L494.70,570.79 L495.70,571.05 L496.70,571.25 L497.70,571.02 L498.70,570.73 L499.70,570.62 L500.70,570.76 L501.70,571.22 L502.70,571.36 L503.70,571.18 L504.70,571.06 L505.70,570.93 L506.70,571.06 L507.70,571.26 L508.70,571.23 L509.70,571.23 L510.70,571.23 L511.70,571.21 L512.70,571.32 L513.70,571.35 L514.70,571.25 L515.70,571.16 L516.70,570.97 L517.70,570.85 L518.70,571.03 L519.70,571.24 L520.70,571.34 L521.70,571.31 L522.70,571.14 L523.70,571.04 L524.70,571.12 L525.70,571.26 L526.70,571.25 L527.70,571.18 L528.70,571.05 L529.70,571.03 L530.70,571.03 L531.70,570.77 L532.70,570.98 L533.70,571.39 L534.70,571.36 L535.70,571.29 L536.70,571.01 L537.70,570.80 L538.70,571.13 L539.70,571.47 L540.70,571.39 L541.70,571.36 L542.70,571.42 L543.70,571.36 L544.70,571.47 L545.70,571.40 L546.70,571.28 L547.70,571.59 L548.70,571.71 L549.70,571.47 L550.70,571.36 L551.70,571.23 L552.70,571.21 L553.70,571.35 L554.70,571.34 L555.70,571.37 L556.70,571.26 L557.70,571.22 L558.70,571.49 L559.70,571.78 L560.70,571.89 L561.70,571.67 L562.70,571.51 L563.70,571.49 L564.70,571.59 L565.70,571.93 L566.70,572.06 L567.70,571.71 L568.70,571.41 L569.70,571.51 L570.70,571.53 L571.70,571.26 L572.70,571.23 L573.70,571.70 L574.70,571.95 L575.70,571.81 L576.70,571.89 L577.70,572.23 L578.70,572.23 L579.70,571.52 L580.70,571.04 L581.70,571.44 L582.70,571.78 L583.70,571.71 L584.70,571.45 L585.70,571.38 L586.70,571.58 L587.70,571.62 L588.70,571.66 L589.70,571.74 L590.70,571.54 L591.70,571.39 L592.70,571.55 L593.00,571.59" fill="none" stroke="#466E0A" stroke-width="4.0" stroke-linejoin="round" stroke-linecap="butt"/><path d="M93.20,500.50 L93.45,500.03 L93.70,499.68 L93.95,499.51 L94.20,499.57 L94.45,499.85 L94.70,500.29 L94.95,500.87 L95.20,501.54 L95.45,502.26 L95.70,503.00 L95.95,503.72 L96.20,504.38 L96.45,504.95 L96.70,505.38 L96.95,505.66 L97.20,505.93 L97.45,506.19 L97.70,506.45 L97.95,506.69 L98.20,506.93 L98.45,507.16 L98.70,507.39 L98.95,507.60 L99.20,507.81 L99.45,508.00 L99.70,508.19 L99.95,508.36 L100.20,508.53 L100.45,508.68 L100.70,508.82 L100.95,508.95 L101.20,509.07 L101.45,509.18 L101.70,509.27 L101.95,509.35 L102.20,509.41 L102.45,509.46 L102.70,509.50 L102.95,509.53 L103.20,509.56 L103.45,509.58 L103.70,509.61 L103.95,509.63 L104.20,509.66 L104.45,509.68 L104.70,509.71 L104.95,509.73 L105.20,509.75 L105.45,509.77 L105.70,509.79 L105.95,509.81 L106.20,509.83 L106.45,509.85 L106.70,509.86 L106.95,509.88 L107.20,509.90 L107.45,509.91 L107.70,509.93 L107.95,509.94 L108.20,509.95 L108.45,509.97 L108.70,509.98 L108.95,509.99 L109.20,510.01 L109.45,510.02 L109.70,510.03 L109.95,510.04 L110.20,510.05 L110.45,510.06 L110.70,510.07 L110.95,510.08 L111.20,510.09 L111.45,510.10 L111.70,510.11 L111.95,510.12 L112.20,510.13 L112.45,510.14 L112.70,510.15 L112.95,510.15 L113.20,510.16 L114.20,510.19 L115.20,510.23 L116.20,510.26 L117.20,510.30 L118.20,510.34 L119.20,510.30 L120.20,510.26 L121.20,510.61 L122.20,510.66 L123.20,510.80 L124.20,511.26 L125.20,511.50 L126.20,511.47 L127.20,511.37 L128.20,511.03 L129.20,511.14 L130.20,511.58 L131.20,511.72 L132.20,511.94 L133.20,511.87 L134.20,511.69 L135.20,511.88 L136.20,512.02 L137.20,512.18 L138.20,512.52 L139.20,512.50 L140.20,512.19 L141.20,512.10 L142.20,512.24 L143.20,512.58 L144.20,512.95 L145.20,512.63 L146.20,512.25 L147.20,512.24 L148.20,512.14 L149.20,512.22 L150.20,512.09 L151.20,512.26 L152.20,512.64 L153.20,512.39 L154.20,512.30 L155.20,512.39 L156.20,511.94 L157.20,512.01 L158.20,512.54 L159.20,512.48 L160.20,512.56 L161.20,512.76 L162.20,512.65 L163.20,512.62 L164.20,512.65 L165.20,512.80 L166.20,513.06 L167.20,513.06 L168.20,512.95 L169.20,512.84 L170.20,512.50 L171.20,512.22 L172.20,512.38 L173.20,512.97 L174.20,513.24 L175.20,512.66 L176.20,512.10 L177.20,512.37 L178.20,512.83 L179.20,512.90 L180.20,512.95 L181.20,513.18 L182.20,512.98 L183.20,512.61 L184.20,512.63 L185.20,512.70 L186.20,512.96 L187.20,513.46 L188.20,513.62 L189.20,513.24 L190.20,512.78 L191.20,512.79 L192.20,512.86 L193.20,512.70 L194.20,512.85 L195.20,513.22 L196.20,513.24 L197.20,513.06 L198.20,513.22 L199.20,513.46 L200.20,513.04 L201.20,512.61 L202.20,512.88 L203.20,513.08 L204.20,512.98 L205.20,512.82 L206.20,512.85 L207.20,513.29 L208.20,513.32 L209.20,513.06 L210.20,513.14 L211.20,513.10 L212.20,512.57 L213.20,511.93 L214.20,512.32 L215.20,513.21 L216.20,513.14 L217.20,513.07 L218.20,513.31 L219.20,513.40 L220.20,513.42 L221.20,513.27 L222.20,513.04 L223.20,512.92 L224.20,513.34 L225.20,513.68 L226.20,513.60 L227.20,513.55 L228.20,513.63 L229.20,513.81 L230.20,513.68 L231.20,513.46 L232.20,513.49 L233.20,513.38 L234.20,513.37 L235.20,513.52 L236.20,513.57 L237.20,513.57 L238.20,513.55 L239.20,513.36 L240.20,513.41 L241.20,513.85 L242.20,514.00 L243.20,514.00 L244.20,513.85 L245.20,513.65 L246.20,513.67 L247.20,513.61 L248.20,513.68 L249.20,513.81 L250.20,513.93 L251.20,514.04 L252.20,513.80 L253.20,513.73 L254.20,514.16 L255.20,514.44 L256.20,514.41 L257.20,514.08 L258.20,513.63 L259.20,513.75 L260.20,513.72 L261.20,513.50 L262.20,513.82 L263.20,513.89 L264.20,513.58 L265.20,513.70 L266.20,514.15 L267.20,514.46 L268.20,514.33 L269.20,513.88 L270.20,513.74 L271.20,513.99 L272.20,514.14 L273.20,514.14 L274.20,514.32 L275.20,514.65 L276.20,514.72 L277.20,514.41 L278.20,514.10 L279.20,514.28 L280.20,514.72 L281.20,515.01 L282.20,514.84 L283.20,514.39 L284.20,514.19 L285.20,513.85 L286.20,513.55 L287.20,513.76 L288.20,514.29 L289.20,514.97 L290.20,515.02 L291.20,514.72 L292.20,514.83 L293.20,515.24 L294.20,515.55 L295.20,515.59 L296.20,515.55 L297.20,515.51 L298.20,515.64 L299.20,515.75 L300.20,515.53 L301.20,515.38 L302.20,515.38 L303.20,515.39 L304.20,515.48 L305.20,515.24 L306.20,515.27 L307.20,515.63 L308.20,515.46 L309.20,515.16 L310.20,514.98 L311.20,514.99 L312.20,515.08 L313.20,515.28 L314.20,515.56 L315.20,515.28 L316.20,515.22 L317.20,515.77 L318.20,515.59 L319.20,514.97 L320.20,515.28 L321.20,515.73 L322.20,515.56 L323.20,515.48 L324.20,515.31 L325.20,514.97 L326.20,515.33 L327.20,516.09 L328.20,516.32 L329.20,516.02 L330.20,515.92 L331.20,516.07 L332.20,516.13 L333.20,516.00 L334.20,515.82 L335.20,515.96 L336.20,516.26 L337.20,516.08 L338.20,515.85 L339.20,516.13 L340.20,516.29 L341.20,515.97 L342.20,515.71 L343.20,515.75 L344.20,515.44 L345.20,515.34 L346.20,515.94 L347.20,516.31 L348.20,516.35 L349.20,516.39 L350.20,516.53 L351.20,516.79 L352.20,516.99 L353.20,517.32 L354.20,517.46 L355.20,517.13 L356.20,517.07 L357.20,517.01 L358.20,516.49 L359.20,516.36 L360.20,516.37 L361.20,516.31 L362.20,516.86 L363.20,517.00 L364.20,516.38 L365.20,516.37 L366.20,516.98 L367.20,516.94 L368.20,516.49 L369.20,516.59 L370.20,516.47 L371.20,516.12 L372.20,516.28 L373.20,516.54 L374.20,516.71 L375.20,516.75 L376.20,516.69 L377.20,516.69 L378.20,516.80 L379.20,517.06 L380.20,517.28 L381.20,517.10 L382.20,516.61 L383.20,516.41 L384.20,516.76 L385.20,517.23 L386.20,517.10 L387.20,516.58 L388.20,516.33 L389.20,516.47 L390.20,516.63 L391.20,516.63 L392.20,516.97 L393.20,517.28 L394.20,517.19 L395.20,516.96 L396.20,516.73 L397.20,516.92 L398.20,517.00 L399.20,516.99 L400.20,517.27 L401.20,517.12 L402.20,516.81 L403.20,517.01 L404.20,517.09 L405.20,516.84 L406.20,516.80 L407.20,516.88 L408.20,516.96 L409.20,516.99 L410.20,517.13 L411.20,517.34 L412.20,517.33 L413.20,517.40 L414.20,517.48 L415.20,517.41 L416.20,517.30 L417.20,517.32 L418.20,517.55 L419.20,517.88 L420.20,518.13 L421.20,517.83 L422.20,517.25 L423.20,517.26 L424.20,517.60 L425.20,517.82 L426.20,517.54 L427.20,517.08 L428.20,516.94 L429.20,516.81 L430.20,516.82 L431.20,516.92 L432.20,517.26 L433.20,517.62 L434.20,517.35 L435.20,517.17 L436.20,517.48 L437.20,517.46 L438.20,517.29 L439.20,517.51 L440.20,517.28 L441.20,517.06 L442.20,517.42 L443.20,518.01 L444.20,518.40 L445.20,517.99 L446.20,517.39 L447.20,517.20 L448.20,517.28 L449.20,517.65 L450.20,517.77 L451.20,517.68 L452.20,517.54 L453.20,517.14 L454.20,517.04 L455.20,517.13 L456.20,517.03 L457.20,517.15 L458.20,517.47 L459.20,517.42 L460.20,517.57 L461.20,518.11 L462.20,518.36 L463.20,517.84 L464.20,517.11 L465.20,517.18 L466.20,517.39 L467.20,517.29 L468.20,517.25 L469.20,517.47 L470.20,517.68 L471.20,517.43 L472.20,517.02 L473.20,517.08 L474.20,517.27 L475.20,517.34 L476.20,517.59 L477.20,517.60 L478.20,517.54 L479.20,517.67 L480.20,517.76 L481.20,517.71 L482.20,517.24 L483.20,517.35 L484.20,518.08 L485.20,517.74 L486.20,517.33 L487.20,517.71 L488.20,517.92 L489.20,518.42 L490.20,518.72 L491.20,518.31 L492.20,517.83 L493.20,517.72 L494.20,517.93 L495.20,518.02 L496.20,518.06 L497.20,517.72 L498.20,517.30 L499.20,517.47 L500.20,517.73 L501.20,517.78 L502.20,517.74 L503.20,517.89 L504.20,518.15 L505.20,518.06 L506.20,517.76 L507.20,517.65 L508.20,518.14 L509.20,518.56 L510.20,518.29 L511.20,517.84 L512.20,517.75 L513.20,518.08 L514.20,518.04 L515.20,517.70 L516.20,517.88 L517.20,518.03 L518.20,517.94 L519.20,518.02 L520.20,518.22 L521.20,518.20 L522.20,517.94 L523.20,518.01 L524.20,517.87 L525.20,517.40 L526.20,517.40 L527.20,517.80 L528.20,518.13 L529.20,518.08 L530.20,518.02 L531.20,518.46 L532.20,518.76 L533.20,518.63 L534.20,518.55 L535.20,518.07 L536.20,517.51 L537.20,517.47 L538.20,517.58 L539.20,517.62 L540.20,517.51 L541.20,517.91 L542.20,518.54 L543.20,518.48 L544.20,518.49 L545.20,518.43 L546.20,517.99 L547.20,517.98 L548.20,518.07 L549.20,517.96 L550.20,517.95 L551.20,518.24 L552.20,518.66 L553.20,518.68 L554.20,518.49 L555.20,518.24 L556.20,517.53 L557.20,517.33 L558.20,518.32 L559.20,518.93 L560.20,518.49 L561.20,518.06 L562.20,518.26 L563.20,518.35 L564.20,518.03 L565.20,518.12 L566.20,518.21 L567.20,518.27 L568.20,518.73 L569.20,518.92 L570.20,518.60 L571.20,518.15 L572.20,518.31 L573.20,518.70 L574.20,518.70 L575.20,518.35 L576.20,517.84 L577.20,517.64 L578.20,517.56 L579.20,517.82 L580.20,518.19 L581.20,518.03 L582.20,517.88 L583.20,518.20 L584.20,518.41 L585.20,518.37 L586.20,518.57 L587.20,518.80 L588.20,518.65 L589.20,518.35 L590.20,518.21 L591.20,518.08 L592.20,518.24 L593.00,518.48" fill="none" stroke="#000A7A" stroke-width="3.5" stroke-linejoin="round" stroke-linecap="butt"/><path d="M89.5,689.40h12 M89.5,636.74h12 M89.5,584.07h12 M89.5,531.41h12 M89.5,663.07h6 M89.5,610.40h6 M89.5,557.74h6 M89.5,505.08h6 M92.80,689.4v-12 M260.10,689.4v-12 M427.40,689.4v-12 M594.70,689.4v-12 M176.45,689.4v-6 M343.75,689.4v-6 M511.05,689.4v-6" stroke="#000" stroke-width="2" fill="none"/><rect x="89.5" y="496.3" width="589.5" height="193.09999999999997" fill="none" stroke="#000" stroke-width="2"/><text x="76.0" y="697.30" font-family="Liberation Serif" font-weight="bold" font-size="27.5" text-anchor="end">0</text><text x="76.0" y="644.64" font-family="Liberation Serif" font-weight="bold" font-size="27.5" text-anchor="end">15</text><text x="76.0" y="591.97" font-family="Liberation Serif" font-weight="bold" font-size="27.5" text-anchor="end">30</text><text x="76.0" y="539.31" font-family="Liberation Serif" font-weight="bold" font-size="27.5" text-anchor="end">45</text><rect x="98.9" y="44.4" width="580.8" height="38.1" fill="#000"/><rect x="89.3" y="35.0" width="581.3" height="38.7" fill="#fff" stroke="#aaa" stroke-width="1.2"/><path d="M93.2,54.3H157.5" stroke="#880000" stroke-width="4.5"/><path d="M282.7,54.3H346.6" stroke="#466E0A" stroke-width="4.5"/><path d="M478.6,54.3H542.6" stroke="#000A7A" stroke-width="3.5"/><text transform="translate(171.50,63.90) scale(1.0082,1)" fill="#000"><tspan font-size="28.4" font-weight="bold" font-style="normal">200 rpm</tspan></text><text transform="translate(353.21,63.90) scale(1.0089,1)" fill="#000"><tspan font-size="28.4" font-weight="bold" font-style="normal">1000 rpm</tspan></text><text transform="translate(549.50,63.90) scale(1.0081,1)" fill="#000"><tspan font-size="28.4" font-weight="bold" font-style="normal">2000 rpm</tspan></text><text x="92.60" y="723.8" font-family="Liberation Serif" font-weight="bold" font-size="27.5" text-anchor="middle">0</text><text x="259.90" y="723.8" font-family="Liberation Serif" font-weight="bold" font-size="27.5" text-anchor="middle">10</text><text x="427.20" y="723.8" font-family="Liberation Serif" font-weight="bold" font-size="27.5" text-anchor="middle">20</text><text x="594.50" y="723.8" font-family="Liberation Serif" font-weight="bold" font-size="27.5" text-anchor="middle">30</text><text transform="translate(318.78,746.00) scale(0.9936,1)" fill="#000"><tspan font-size="33.3" font-weight="bold" font-style="normal">Time, s</tspan></text><text transform="translate(332.00,194.30) scale(0.9832,1)" fill="#000"><tspan font-size="27.4" font-weight="normal" font-style="normal">-0.50 V</tspan></text><text transform="translate(334.79,427.20) scale(0.9892,1)" fill="#000"><tspan font-size="27.4" font-weight="normal" font-style="normal">-0.75 V</tspan></text><text transform="translate(328.00,669.40) scale(0.9880,1)" fill="#000"><tspan font-size="27.4" font-weight="normal" font-style="normal">-0.95 V</tspan></text><text transform="translate(617.91,145.00) scale(1.0417,1)" fill="#000"><tspan font-size="32.5" font-weight="normal" font-style="normal">(a)</tspan></text><text transform="translate(38.90,411.37) rotate(-90) scale(0.9528,1)" fill="#000"><tspan font-size="33.6" font-weight="bold" font-style="normal">-</tspan><tspan font-size="33.6" font-weight="bold" font-style="italic">i</tspan><tspan font-size="33.6" font-weight="bold" font-style="normal">, mA/cm</tspan></text><text transform="translate(25.40,276.05) rotate(-90) scale(0.9934,1)" fill="#000"><tspan font-size="22.8" font-weight="bold" font-style="normal">2</tspan></text><path d="M865.2,636.50h12.5 M865.2,553.70h12.5 M865.2,470.90h12.5 M865.2,388.10h12.5 M865.2,305.30h12.5 M865.2,222.50h12.5 M865.2,139.70h12.5 M865.2,56.90h12.5 M865.2,595.10h6.3 M865.2,512.30h6.3 M865.2,429.50h6.3 M865.2,346.70h6.3 M865.2,263.90h6.3 M865.2,181.10h6.3 M865.2,98.30h6.3 M865.20,636.5v-12.5 M1013.01,636.5v-12.5 M1160.82,636.5v-12.5 M1308.63,636.5v-12.5 M1456.44,636.5v-12.5 M939.11,636.5v-6.3 M1086.91,636.5v-6.3 M1234.73,636.5v-6.3 M1382.54,636.5v-6.3" stroke="#000" stroke-width="2" fill="none"/><path d="M942.90,397.91 L946.84,400.38 L950.75,402.83 L954.63,405.26 L958.49,407.68 L962.32,410.07 L966.13,412.45 L969.91,414.82 L973.67,417.16 L977.40,419.49 L981.10,421.81 L984.78,424.10 L988.43,426.38 L992.05,428.64 L995.65,430.88 L999.23,433.11 L1002.77,435.32 L1006.29,437.51 L1009.79,439.69 L1013.26,441.84 L1016.70,443.98 L1020.12,446.11 L1023.51,448.21 L1026.88,450.30 L1030.21,452.38 L1033.53,454.43 L1036.81,456.47 L1040.08,458.49 L1043.31,460.49 L1046.52,462.48 L1049.70,464.45 L1052.86,466.40 L1055.99,468.33 L1059.10,470.25 L1062.18,472.15 L1065.23,474.03 L1068.26,475.90 L1071.26,477.75 L1074.24,479.58 L1077.18,481.40 L1080.11,483.19 L1083.01,484.97 L1085.88,486.74 L1088.72,488.48 L1091.54,490.21 L1094.34,491.92 L1097.10,493.62 L1099.84,495.29 L1102.56,496.95 L1105.25,498.60 L1107.91,500.22 L1110.55,501.83 L1113.16,503.42 L1115.75,505.00 L1118.31,506.55 L1120.84,508.09 L1123.35,509.62 L1125.83,511.12 L1128.29,512.61 L1130.72,514.08 L1133.12,515.54 L1135.50,516.97 L1137.85,518.39 L1140.17,519.80 L1142.47,521.18 L1144.75,522.55 L1147.00,523.90 L1149.22,525.24 L1151.44,526.56 L1153.65,527.88 L1155.85,529.19 L1158.04,530.48 L1160.23,531.77 L1162.41,533.05 L1164.58,534.32 L1166.74,535.58 L1168.89,536.83 L1171.04,538.07 L1173.18,539.30 L1175.31,540.52 L1177.43,541.74 L1179.55,542.94 L1181.66,544.13 L1183.76,545.32 L1185.85,546.49 L1187.93,547.66 L1190.01,548.81 L1192.08,549.96 L1194.14,551.10 L1196.19,552.22 L1198.24,553.34 L1200.27,554.45 L1202.30,555.55 L1204.33,556.64 L1206.34,557.72 L1208.35,558.79 L1210.34,559.85 L1212.33,560.90 L1214.32,561.95 L1216.29,562.98 L1218.26,564.00 L1220.22,565.02 L1222.17,566.02 L1224.11,567.02 L1226.05,568.00 L1227.98,568.98 L1229.90,569.94 L1231.81,570.90 L1233.72,571.85 L1235.61,572.79 L1237.50,573.72 L1239.38,574.64 L1241.26,575.55 L1243.12,576.45 L1244.98,577.34 L1246.83,578.22 L1248.67,579.09 L1250.51,579.96 L1252.34,580.81 L1254.15,581.65 L1255.97,582.49 L1257.77,583.31 L1259.56,584.13 L1261.35,584.94 L1263.13,585.73 L1264.90,586.52 L1266.67,587.30 L1268.42,588.07 L1270.17,588.83 L1271.91,589.58 L1273.65,590.32 L1275.37,591.05 L1277.09,591.77 L1278.80,592.48 L1280.52,593.18 L1282.26,593.88 L1284.02,594.58 L1285.80,595.26 L1287.59,595.94 L1289.40,596.62 L1291.23,597.29 L1293.08,597.95 L1294.94,598.61 L1296.83,599.26 L1298.73,599.90 L1300.64,600.54 L1302.58,601.17 L1304.53,601.80 L1306.50,602.42 L1308.49,603.03 L1310.50,603.64 L1312.52,604.24 L1314.56,604.84 L1316.62,605.43 L1318.70,606.01 L1320.79,606.59 L1322.90,607.16 L1325.03,607.73 L1327.18,608.29 L1329.34,608.84 L1331.53,609.39 L1333.73,609.93 L1335.94,610.46 L1338.18,610.99 L1340.43,611.51 L1342.70,612.03 L1344.99,612.54 L1347.30,613.05 L1349.62,613.54 L1351.96,614.04 L1354.32,614.52 L1356.70,615.00 L1359.09,615.48 L1361.51,615.95 L1363.94,616.41 L1366.38,616.86 L1368.85,617.31 L1371.33,617.76 L1373.83,618.20 L1376.35,618.63 L1378.89,619.05 L1381.44,619.47 L1384.01,619.89 L1386.60,620.29 L1389.21,620.69 L1391.83,621.09 L1394.47,621.48 L1397.13,621.86 L1399.81,622.24 L1402.50,622.61 L1405.22,622.97 L1407.95,623.33 L1410.70,623.69 L1413.46,624.03 L1416.24,624.37 L1419.05,624.71 L1421.86,625.04 L1424.70,625.36 L1427.55,625.67 L1430.43,625.98" fill="none" stroke="#4A4A4A" stroke-width="3" stroke-linejoin="round"/><rect x="937.60" y="392.61" width="10.6" height="10.6" fill="#4A4A4A"/><rect x="1068.61" y="474.71" width="10.6" height="10.6" fill="#4A4A4A"/><rect x="1216.27" y="563.39" width="10.6" height="10.6" fill="#4A4A4A"/><rect x="1329.59" y="610.50" width="10.6" height="10.6" fill="#4A4A4A"/><rect x="1425.13" y="620.68" width="10.6" height="10.6" fill="#4A4A4A"/><path d="M942.90,578.91 L949.47,579.74 L955.96,580.56 L962.39,581.37 L968.74,582.16 L975.02,582.94 L981.22,583.71 L987.36,584.46 L993.42,585.20 L999.40,585.93 L1005.32,586.65 L1011.16,587.35 L1016.93,588.05 L1022.63,588.72 L1028.25,589.39 L1033.80,590.04 L1039.28,590.69 L1044.69,591.31 L1050.02,591.93 L1055.28,592.53 L1060.47,593.12 L1065.59,593.70 L1070.63,594.26 L1075.60,594.82 L1080.50,595.36 L1085.32,595.88 L1090.08,596.40 L1094.76,596.90 L1099.36,597.39 L1103.90,597.87 L1108.36,598.33 L1112.75,598.78 L1117.06,599.22 L1121.31,599.64 L1125.48,600.06 L1129.58,600.46 L1133.60,600.85 L1137.55,601.22 L1141.43,601.58 L1145.24,601.93 L1148.98,602.27 L1152.68,602.60 L1156.37,602.93 L1160.03,603.26 L1163.67,603.59 L1167.28,603.91 L1170.88,604.23 L1174.45,604.55 L1178.00,604.86 L1181.53,605.18 L1185.04,605.49 L1188.53,605.80 L1191.99,606.10 L1195.43,606.41 L1198.85,606.71 L1202.25,607.01 L1205.63,607.30 L1208.98,607.59 L1212.32,607.89 L1215.63,608.17 L1218.92,608.46 L1222.19,608.74 L1225.43,609.02 L1228.66,609.30 L1231.86,609.58 L1235.04,609.85 L1238.20,610.12 L1241.34,610.39 L1244.45,610.66 L1247.54,610.92 L1250.62,611.18 L1253.67,611.44 L1256.69,611.70 L1259.70,611.95 L1262.68,612.20 L1265.65,612.45 L1268.59,612.70 L1271.51,612.94 L1274.40,613.18 L1277.28,613.42 L1280.15,613.66 L1283.06,613.90 L1286.02,614.14 L1289.04,614.39 L1292.10,614.64 L1295.21,614.89 L1298.37,615.14 L1301.58,615.40 L1304.85,615.66 L1308.16,615.92 L1311.51,616.19 L1314.92,616.46 L1318.38,616.73 L1321.89,617.00 L1325.45,617.28 L1329.05,617.56 L1332.71,617.84 L1336.41,618.13 L1340.17,618.42 L1343.97,618.71 L1347.82,619.00 L1351.73,619.30 L1355.68,619.60 L1359.68,619.90 L1363.73,620.20 L1367.83,620.51 L1371.98,620.82 L1376.18,621.13 L1380.43,621.45 L1384.73,621.77 L1389.07,622.09 L1393.47,622.42 L1397.92,622.74 L1402.41,623.07 L1406.96,623.41 L1411.55,623.74 L1416.20,624.08 L1420.89,624.42 L1425.63,624.77 L1430.43,625.12" fill="none" stroke="#EE3535" stroke-width="3" stroke-linejoin="round"/><circle cx="942.90" cy="578.91" r="5.9" fill="#EE3535"/><circle cx="1073.91" cy="595.51" r="5.9" fill="#EE3535"/><circle cx="1221.57" cy="608.80" r="5.9" fill="#EE3535"/><circle cx="1334.89" cy="618.20" r="5.9" fill="#EE3535"/><circle cx="1430.43" cy="625.12" r="5.9" fill="#EE3535"/><path d="M942.90,419.61 L946.84,418.52 L950.75,417.45 L954.63,416.42 L958.49,415.41 L962.32,414.42 L966.13,413.46 L969.91,412.53 L973.67,411.62 L977.40,410.74 L981.10,409.88 L984.78,409.05 L988.43,408.25 L992.05,407.47 L995.65,406.71 L999.23,405.99 L1002.77,405.28 L1006.29,404.61 L1009.79,403.96 L1013.26,403.33 L1016.70,402.73 L1020.12,402.16 L1023.51,401.61 L1026.88,401.09 L1030.21,400.59 L1033.53,400.12 L1036.81,399.68 L1040.08,399.26 L1043.31,398.87 L1046.52,398.50 L1049.70,398.16 L1052.86,397.84 L1055.99,397.55 L1059.10,397.29 L1062.18,397.05 L1065.23,396.83 L1068.26,396.65 L1071.26,396.48 L1074.24,396.35 L1077.18,396.24 L1080.11,396.15 L1083.01,396.10 L1085.88,396.06 L1088.72,396.05 L1091.54,396.07 L1094.34,396.12 L1097.10,396.19 L1099.84,396.28 L1102.56,396.40 L1105.25,396.55 L1107.91,396.72 L1110.55,396.92 L1113.16,397.15 L1115.75,397.40 L1118.31,397.67 L1120.84,397.97 L1123.35,398.30 L1125.83,398.65 L1128.29,399.03 L1130.72,399.44 L1133.12,399.87 L1135.50,400.32 L1137.85,400.81 L1140.17,401.31 L1142.47,401.85 L1144.75,402.41 L1147.00,402.99 L1149.22,403.59 L1151.44,404.20 L1153.65,404.81 L1155.85,405.42 L1158.04,406.03 L1160.23,406.64 L1162.41,407.25 L1164.58,407.86 L1166.74,408.47 L1168.89,409.08 L1171.04,409.70 L1173.18,410.31 L1175.31,410.93 L1177.43,411.54 L1179.55,412.16 L1181.66,412.78 L1183.76,413.40 L1185.85,414.01 L1187.93,414.63 L1190.01,415.25 L1192.08,415.88 L1194.14,416.50 L1196.19,417.12 L1198.24,417.74 L1200.27,418.37 L1202.30,418.99 L1204.33,419.62 L1206.34,420.24 L1208.35,420.87 L1210.34,421.50 L1212.33,422.13 L1214.32,422.76 L1216.29,423.39 L1218.26,424.02 L1220.22,424.65 L1222.17,425.28 L1224.11,425.92 L1226.05,426.55 L1227.98,427.19 L1229.90,427.82 L1231.81,428.46 L1233.72,429.09 L1235.61,429.73 L1237.50,430.37 L1239.38,431.01 L1241.26,431.65 L1243.12,432.29 L1244.98,432.93 L1246.83,433.57 L1248.67,434.22 L1250.51,434.86 L1252.34,435.51 L1254.15,436.15 L1255.97,436.80 L1257.77,437.44 L1259.56,438.09 L1261.35,438.74 L1263.13,439.39 L1264.90,440.04 L1266.67,440.69 L1268.42,441.34 L1270.17,441.99 L1271.91,442.65 L1273.65,443.30 L1275.37,443.95 L1277.09,444.61 L1278.80,445.27 L1280.52,445.93 L1282.26,446.61 L1284.02,447.30 L1285.80,448.01 L1287.59,448.73 L1289.40,449.46 L1291.23,450.20 L1293.08,450.96 L1294.94,451.73 L1296.83,452.51 L1298.73,453.31 L1300.64,454.12 L1302.58,454.94 L1304.53,455.77 L1306.50,456.62 L1308.49,457.48 L1310.50,458.35 L1312.52,459.24 L1314.56,460.13 L1316.62,461.05 L1318.70,461.97 L1320.79,462.91 L1322.90,463.86 L1325.03,464.82 L1327.18,465.80 L1329.34,466.79 L1331.53,467.79 L1333.73,468.80 L1335.94,469.83 L1338.18,470.87 L1340.43,471.92 L1342.70,472.99 L1344.99,474.07 L1347.30,475.16 L1349.62,476.26 L1351.96,477.38 L1354.32,478.51 L1356.70,479.65 L1359.09,480.81 L1361.51,481.98 L1363.94,483.16 L1366.38,484.36 L1368.85,485.56 L1371.33,486.78 L1373.83,488.02 L1376.35,489.26 L1378.89,490.52 L1381.44,491.80 L1384.01,493.08 L1386.60,494.38 L1389.21,495.69 L1391.83,497.01 L1394.47,498.35 L1397.13,499.70 L1399.81,501.06 L1402.50,502.44 L1405.22,503.82 L1407.95,505.22 L1410.70,506.64 L1413.46,508.07 L1416.24,509.50 L1419.05,510.96 L1421.86,512.42 L1424.70,513.90 L1427.55,515.39 L1430.43,516.90" fill="none" stroke="#186CDC" stroke-width="3" stroke-linejoin="round"/><path d="M942.90,411.31 L950.09,423.76 L935.71,423.76Z" fill="#186CDC"/><path d="M1073.91,374.79 L1081.10,387.24 L1066.72,387.24Z" fill="#186CDC"/><path d="M1221.57,414.99 L1228.76,427.44 L1214.38,427.44Z" fill="#186CDC"/><path d="M1334.89,458.50 L1342.08,470.95 L1327.70,470.95Z" fill="#186CDC"/><path d="M1430.43,508.60 L1437.61,521.05 L1423.24,521.05Z" fill="#186CDC"/><path d="M942.90,389.71 L946.84,387.50 L950.75,385.32 L954.63,383.16 L958.49,381.04 L962.32,378.94 L966.13,376.87 L969.91,374.83 L973.67,372.82 L977.40,370.84 L981.10,368.89 L984.78,366.97 L988.43,365.07 L992.05,363.21 L995.65,361.37 L999.23,359.56 L1002.77,357.78 L1006.29,356.03 L1009.79,354.31 L1013.26,352.62 L1016.70,350.95 L1020.12,349.32 L1023.51,347.71 L1026.88,346.13 L1030.21,344.59 L1033.53,343.07 L1036.81,341.58 L1040.08,340.11 L1043.31,338.68 L1046.52,337.28 L1049.70,335.90 L1052.86,334.56 L1055.99,333.24 L1059.10,331.95 L1062.18,330.69 L1065.23,329.46 L1068.26,328.26 L1071.26,327.09 L1074.24,325.94 L1077.18,324.83 L1080.11,323.74 L1083.01,322.68 L1085.88,321.65 L1088.72,320.66 L1091.54,319.68 L1094.34,318.74 L1097.10,317.83 L1099.84,316.95 L1102.56,316.09 L1105.25,315.26 L1107.91,314.47 L1110.55,313.70 L1113.16,312.96 L1115.75,312.25 L1118.31,311.56 L1120.84,310.91 L1123.35,310.29 L1125.83,309.69 L1128.29,309.13 L1130.72,308.59 L1133.12,308.08 L1135.50,307.60 L1137.85,307.15 L1140.17,306.73 L1142.47,306.33 L1144.75,305.97 L1147.00,305.63 L1149.22,305.32 L1151.44,305.02 L1153.65,304.73 L1155.85,304.44 L1158.04,304.16 L1160.23,303.89 L1162.41,303.63 L1164.58,303.38 L1166.74,303.13 L1168.89,302.90 L1171.04,302.67 L1173.18,302.45 L1175.31,302.23 L1177.43,302.03 L1179.55,301.83 L1181.66,301.65 L1183.76,301.47 L1185.85,301.29 L1187.93,301.13 L1190.01,300.97 L1192.08,300.83 L1194.14,300.69 L1196.19,300.56 L1198.24,300.43 L1200.27,300.32 L1202.30,300.21 L1204.33,300.11 L1206.34,300.02 L1208.35,299.94 L1210.34,299.87 L1212.33,299.80 L1214.32,299.74 L1216.29,299.69 L1218.26,299.65 L1220.22,299.62 L1222.17,299.59 L1224.11,299.57 L1226.05,299.56 L1227.98,299.56 L1229.90,299.57 L1231.81,299.58 L1233.72,299.61 L1235.61,299.64 L1237.50,299.68 L1239.38,299.73 L1241.26,299.78 L1243.12,299.85 L1244.98,299.92 L1246.83,300.00 L1248.67,300.09 L1250.51,300.18 L1252.34,300.29 L1254.15,300.40 L1255.97,300.52 L1257.77,300.65 L1259.56,300.79 L1261.35,300.93 L1263.13,301.08 L1264.90,301.25 L1266.67,301.42 L1268.42,301.59 L1270.17,301.78 L1271.91,301.97 L1273.65,302.18 L1275.37,302.39 L1277.09,302.60 L1278.80,302.83 L1280.52,303.08 L1282.26,303.34 L1284.02,303.63 L1285.80,303.94 L1287.59,304.27 L1289.40,304.62 L1291.23,305.00 L1293.08,305.39 L1294.94,305.81 L1296.83,306.24 L1298.73,306.70 L1300.64,307.18 L1302.58,307.68 L1304.53,308.20 L1306.50,308.74 L1308.49,309.31 L1310.50,309.89 L1312.52,310.50 L1314.56,311.13 L1316.62,311.78 L1318.70,312.45 L1320.79,313.14 L1322.90,313.85 L1325.03,314.58 L1327.18,315.34 L1329.34,316.12 L1331.53,316.91 L1333.73,317.73 L1335.94,318.57 L1338.18,319.43 L1340.43,320.32 L1342.70,321.22 L1344.99,322.15 L1347.30,323.09 L1349.62,324.06 L1351.96,325.05 L1354.32,326.06 L1356.70,327.09 L1359.09,328.14 L1361.51,329.21 L1363.94,330.31 L1366.38,331.43 L1368.85,332.56 L1371.33,333.72 L1373.83,334.90 L1376.35,336.10 L1378.89,337.33 L1381.44,338.57 L1384.01,339.83 L1386.60,341.12 L1389.21,342.43 L1391.83,343.76 L1394.47,345.11 L1397.13,346.48 L1399.81,347.87 L1402.50,349.28 L1405.22,350.72 L1407.95,352.17 L1410.70,353.65 L1413.46,355.15 L1416.24,356.67 L1419.05,358.21 L1421.86,359.77 L1424.70,361.35 L1427.55,362.96 L1430.43,364.58" fill="none" stroke="#007D00" stroke-width="3" stroke-linejoin="round"/><path d="M942.90,398.01 L935.71,385.56 L950.09,385.56Z" fill="#007D00"/><path d="M1073.91,324.16 L1066.72,311.71 L1081.10,311.71Z" fill="#007D00"/><path d="M1221.57,303.50 L1214.38,291.05 L1228.76,291.05Z" fill="#007D00"/><path d="M1334.89,318.61 L1327.70,306.16 L1342.08,306.16Z" fill="#007D00"/><path d="M1430.43,372.88 L1423.24,360.43 L1437.61,360.43Z" fill="#007D00"/><path d="M942.90,380.48 L946.84,377.54 L950.75,374.64 L954.63,371.76 L958.49,368.91 L962.32,366.10 L966.13,363.32 L969.91,360.56 L973.67,357.84 L977.40,355.15 L981.10,352.50 L984.78,349.87 L988.43,347.27 L992.05,344.71 L995.65,342.18 L999.23,339.67 L1002.77,337.20 L1006.29,334.76 L1009.79,332.35 L1013.26,329.98 L1016.70,327.63 L1020.12,325.32 L1023.51,323.03 L1026.88,320.78 L1030.21,318.56 L1033.53,316.37 L1036.81,314.21 L1040.08,312.08 L1043.31,309.98 L1046.52,307.92 L1049.70,305.88 L1052.86,303.88 L1055.99,301.91 L1059.10,299.97 L1062.18,298.06 L1065.23,296.18 L1068.26,294.33 L1071.26,292.52 L1074.24,290.73 L1077.18,288.98 L1080.11,287.26 L1083.01,285.57 L1085.88,283.91 L1088.72,282.28 L1091.54,280.68 L1094.34,279.12 L1097.10,277.58 L1099.84,276.08 L1102.56,274.60 L1105.25,273.16 L1107.91,271.75 L1110.55,270.37 L1113.16,269.03 L1115.75,267.71 L1118.31,266.42 L1120.84,265.17 L1123.35,263.95 L1125.83,262.75 L1128.29,261.59 L1130.72,260.46 L1133.12,259.37 L1135.50,258.30 L1137.85,257.26 L1140.17,256.26 L1142.47,255.29 L1144.75,254.34 L1147.00,253.43 L1149.22,252.55 L1151.44,251.68 L1153.65,250.81 L1155.85,249.96 L1158.04,249.12 L1160.23,248.29 L1162.41,247.47 L1164.58,246.67 L1166.74,245.87 L1168.89,245.08 L1171.04,244.30 L1173.18,243.54 L1175.31,242.78 L1177.43,242.04 L1179.55,241.31 L1181.66,240.58 L1183.76,239.87 L1185.85,239.17 L1187.93,238.48 L1190.01,237.80 L1192.08,237.13 L1194.14,236.47 L1196.19,235.82 L1198.24,235.18 L1200.27,234.56 L1202.30,233.94 L1204.33,233.34 L1206.34,232.74 L1208.35,232.16 L1210.34,231.58 L1212.33,231.02 L1214.32,230.47 L1216.29,229.93 L1218.26,229.40 L1220.22,228.88 L1222.17,228.37 L1224.11,227.87 L1226.05,227.38 L1227.98,226.91 L1229.90,226.44 L1231.81,225.98 L1233.72,225.54 L1235.61,225.10 L1237.50,224.68 L1239.38,224.27 L1241.26,223.87 L1243.12,223.47 L1244.98,223.09 L1246.83,222.72 L1248.67,222.36 L1250.51,222.02 L1252.34,221.68 L1254.15,221.35 L1255.97,221.03 L1257.77,220.73 L1259.56,220.43 L1261.35,220.15 L1263.13,219.87 L1264.90,219.61 L1266.67,219.36 L1268.42,219.11 L1270.17,218.88 L1271.91,218.66 L1273.65,218.45 L1275.37,218.25 L1277.09,218.07 L1278.80,217.89 L1280.52,217.71 L1282.26,217.54 L1284.02,217.36 L1285.80,217.18 L1287.59,217.01 L1289.40,216.83 L1291.23,216.66 L1293.08,216.48 L1294.94,216.30 L1296.83,216.13 L1298.73,215.95 L1300.64,215.78 L1302.58,215.60 L1304.53,215.43 L1306.50,215.25 L1308.49,215.07 L1310.50,214.90 L1312.52,214.72 L1314.56,214.55 L1316.62,214.37 L1318.70,214.20 L1320.79,214.02 L1322.90,213.84 L1325.03,213.67 L1327.18,213.49 L1329.34,213.32 L1331.53,213.14 L1333.73,212.97 L1335.94,212.79 L1338.18,212.62 L1340.43,212.44 L1342.70,212.27 L1344.99,212.09 L1347.30,211.91 L1349.62,211.74 L1351.96,211.56 L1354.32,211.39 L1356.70,211.21 L1359.09,211.04 L1361.51,210.86 L1363.94,210.69 L1366.38,210.51 L1368.85,210.34 L1371.33,210.16 L1373.83,209.99 L1376.35,209.81 L1378.89,209.64 L1381.44,209.46 L1384.01,209.29 L1386.60,209.11 L1389.21,208.94 L1391.83,208.76 L1394.47,208.59 L1397.13,208.41 L1399.81,208.24 L1402.50,208.06 L1405.22,207.89 L1407.95,207.71 L1410.70,207.54 L1413.46,207.36 L1416.24,207.19 L1419.05,207.01 L1421.86,206.84 L1424.70,206.66 L1427.55,206.49 L1430.43,206.31" fill="none" stroke="#7B007B" stroke-width="3" stroke-linejoin="round"/><path d="M942.90,372.88L950.50,380.48L942.90,388.08L935.30,380.48Z" fill="#7B007B"/><path d="M1073.91,274.89L1081.51,282.49L1073.91,290.09L1066.31,282.49Z" fill="#7B007B"/><path d="M1221.57,216.18L1229.17,223.78L1221.57,231.38L1213.97,223.78Z" fill="#7B007B"/><path d="M1334.89,204.51L1342.49,212.11L1334.89,219.71L1327.29,212.11Z" fill="#7B007B"/><path d="M1430.43,198.71L1438.03,206.31L1430.43,213.91L1422.83,206.31Z" fill="#7B007B"/><path d="M942.90,385.12 L946.84,382.09 L950.75,379.09 L954.63,376.11 L958.49,373.16 L962.32,370.24 L966.13,367.34 L969.91,364.47 L973.67,361.63 L977.40,358.82 L981.10,356.03 L984.78,353.26 L988.43,350.53 L992.05,347.82 L995.65,345.14 L999.23,342.48 L1002.77,339.86 L1006.29,337.26 L1009.79,334.68 L1013.26,332.13 L1016.70,329.61 L1020.12,327.12 L1023.51,324.65 L1026.88,322.21 L1030.21,319.80 L1033.53,317.41 L1036.81,315.05 L1040.08,312.72 L1043.31,310.41 L1046.52,308.13 L1049.70,305.88 L1052.86,303.65 L1055.99,301.45 L1059.10,299.28 L1062.18,297.13 L1065.23,295.01 L1068.26,292.92 L1071.26,290.86 L1074.24,288.82 L1077.18,286.81 L1080.11,284.82 L1083.01,282.86 L1085.88,280.93 L1088.72,279.03 L1091.54,277.15 L1094.34,275.30 L1097.10,273.47 L1099.84,271.67 L1102.56,269.90 L1105.25,268.16 L1107.91,266.44 L1110.55,264.75 L1113.16,263.09 L1115.75,261.45 L1118.31,259.84 L1120.84,258.26 L1123.35,256.70 L1125.83,255.17 L1128.29,253.67 L1130.72,252.19 L1133.12,250.74 L1135.50,249.32 L1137.85,247.92 L1140.17,246.56 L1142.47,245.21 L1144.75,243.90 L1147.00,242.61 L1149.22,241.34 L1151.44,240.09 L1153.65,238.85 L1155.85,237.62 L1158.04,236.40 L1160.23,235.19 L1162.41,233.99 L1164.58,232.80 L1166.74,231.62 L1168.89,230.46 L1171.04,229.30 L1173.18,228.16 L1175.31,227.02 L1177.43,225.90 L1179.55,224.79 L1181.66,223.69 L1183.76,222.60 L1185.85,221.52 L1187.93,220.45 L1190.01,219.40 L1192.08,218.35 L1194.14,217.31 L1196.19,216.29 L1198.24,215.28 L1200.27,214.28 L1202.30,213.28 L1204.33,212.30 L1206.34,211.33 L1208.35,210.38 L1210.34,209.43 L1212.33,208.49 L1214.32,207.57 L1216.29,206.65 L1218.26,205.75 L1220.22,204.86 L1222.17,203.97 L1224.11,203.10 L1226.05,202.24 L1227.98,201.39 L1229.90,200.56 L1231.81,199.73 L1233.72,198.91 L1235.61,198.11 L1237.50,197.31 L1239.38,196.53 L1241.26,195.76 L1243.12,194.99 L1244.98,194.24 L1246.83,193.50 L1248.67,192.78 L1250.51,192.06 L1252.34,191.35 L1254.15,190.65 L1255.97,189.97 L1257.77,189.30 L1259.56,188.63 L1261.35,187.98 L1263.13,187.34 L1264.90,186.71 L1266.67,186.09 L1268.42,185.48 L1270.17,184.88 L1271.91,184.30 L1273.65,183.72 L1275.37,183.16 L1277.09,182.60 L1278.80,182.06 L1280.52,181.51 L1282.26,180.96 L1284.02,180.41 L1285.80,179.85 L1287.59,179.29 L1289.40,178.72 L1291.23,178.15 L1293.08,177.58 L1294.94,177.00 L1296.83,176.41 L1298.73,175.82 L1300.64,175.23 L1302.58,174.63 L1304.53,174.03 L1306.50,173.42 L1308.49,172.81 L1310.50,172.19 L1312.52,171.57 L1314.56,170.95 L1316.62,170.32 L1318.70,169.69 L1320.79,169.05 L1322.90,168.41 L1325.03,167.76 L1327.18,167.11 L1329.34,166.45 L1331.53,165.79 L1333.73,165.13 L1335.94,164.46 L1338.18,163.79 L1340.43,163.11 L1342.70,162.43 L1344.99,161.74 L1347.30,161.05 L1349.62,160.35 L1351.96,159.65 L1354.32,158.95 L1356.70,158.24 L1359.09,157.53 L1361.51,156.81 L1363.94,156.09 L1366.38,155.36 L1368.85,154.63 L1371.33,153.89 L1373.83,153.15 L1376.35,152.41 L1378.89,151.66 L1381.44,150.91 L1384.01,150.15 L1386.60,149.39 L1389.21,148.62 L1391.83,147.85 L1394.47,147.08 L1397.13,146.30 L1399.81,145.51 L1402.50,144.72 L1405.22,143.93 L1407.95,143.13 L1410.70,142.33 L1413.46,141.53 L1416.24,140.71 L1419.05,139.90 L1421.86,139.08 L1424.70,138.26 L1427.55,137.43 L1430.43,136.60" fill="none" stroke="#808000" stroke-width="3" stroke-linejoin="round"/><path d="M934.60,385.12 L947.05,377.93 L947.05,392.31Z" fill="#808000"/><path d="M1065.61,284.19 L1078.06,277.00 L1078.06,291.37Z" fill="#808000"/><path d="M1213.27,200.19 L1225.72,193.00 L1225.72,207.37Z" fill="#808000"/><path d="M1326.59,164.29 L1339.04,157.10 L1339.04,171.48Z" fill="#808000"/><path d="M1422.13,136.60 L1434.58,129.41 L1434.58,143.78Z" fill="#808000"/><rect x="864.8000000000001" y="15.4" width="591.9" height="621.1" fill="none" stroke="#000" stroke-width="2"/><text x="851.4" y="645.10" font-family="Liberation Serif" font-weight="bold" font-size="27.5" text-anchor="end">0</text><text x="851.4" y="562.30" font-family="Liberation Serif" font-weight="bold" font-size="27.5" text-anchor="end">2</text><text x="851.4" y="479.50" font-family="Liberation Serif" font-weight="bold" font-size="27.5" text-anchor="end">4</text><text x="851.4" y="396.70" font-family="Liberation Serif" font-weight="bold" font-size="27.5" text-anchor="end">6</text><text x="851.4" y="313.90" font-family="Liberation Serif" font-weight="bold" font-size="27.5" text-anchor="end">8</text><text x="851.4" y="231.10" font-family="Liberation Serif" font-weight="bold" font-size="27.5" text-anchor="end">10</text><text x="851.4" y="148.30" font-family="Liberation Serif" font-weight="bold" font-size="27.5" text-anchor="end">12</text><text x="851.4" y="65.50" font-family="Liberation Serif" font-weight="bold" font-size="27.5" text-anchor="end">14</text><text x="865.20" y="672.1" font-family="Liberation Serif" font-weight="bold" font-size="27.5" text-anchor="middle">3</text><text x="1013.01" y="672.1" font-family="Liberation Serif" font-weight="bold" font-size="27.5" text-anchor="middle">6</text><text x="1160.82" y="672.1" font-family="Liberation Serif" font-weight="bold" font-size="27.5" text-anchor="middle">9</text><text x="1308.63" y="672.1" font-family="Liberation Serif" font-weight="bold" font-size="27.5" text-anchor="middle">12</text><text x="1456.44" y="672.1" font-family="Liberation Serif" font-weight="bold" font-size="27.5" text-anchor="middle">15</text><text transform="translate(962.02,726.70) scale(1.0104,1)" fill="#000"><tspan font-size="33.3" font-weight="bold" font-style="normal">Rotation rate</tspan></text><text transform="translate(1153.55,712.80) scale(1.0141,1)" fill="#000"><tspan font-size="22.8" font-weight="bold" font-style="normal">1/2</tspan></text><text transform="translate(1184.36,726.70) scale(0.9955,1)" fill="#000"><tspan font-size="33.3" font-weight="bold" font-style="normal">, (rad/s)</tspan></text><text transform="translate(1295.43,712.80) scale(1.0255,1)" fill="#000"><tspan font-size="22.8" font-weight="bold" font-style="normal">1/2</tspan></text><text transform="translate(805.20,409.01) rotate(-90) scale(1.0019,1)" fill="#000"><tspan font-size="33.6" font-weight="bold" font-style="italic">-</tspan><tspan font-size="33.6" font-weight="bold" font-style="italic">i</tspan><tspan font-size="33.6" font-weight="bold" font-style="normal">, mA/cm</tspan></text><text transform="translate(791.10,267.06) rotate(-90) scale(1.0039,1)" fill="#000"><tspan font-size="22.8" font-weight="bold" font-style="normal">2</tspan></text><text transform="translate(1337.06,73.90) scale(1.0494,1)" fill="#000"><tspan font-size="33.5" font-weight="normal" font-style="normal">(b)</tspan></text><rect x="896.5" y="37.0" width="326.5" height="111.0" fill="#000"/><rect x="887.1" y="27.5" width="327.0" height="111.6" fill="#fff" stroke="#999" stroke-width="1.3"/><path d="M886.5,27.5H1214.7" stroke="#444" stroke-width="1.2"/><path d="M887.5,44.8H956.0" stroke="#4A4A4A" stroke-width="3"/><rect x="916.40" y="39.50" width="10.6" height="10.6" fill="#4A4A4A"/><path d="M887.5,83.1H956.0" stroke="#EE3535" stroke-width="3"/><circle cx="921.70" cy="83.10" r="5.9" fill="#EE3535"/><path d="M887.5,121.4H956.0" stroke="#186CDC" stroke-width="3"/><path d="M921.70,113.10 L928.89,125.55 L914.51,125.55Z" fill="#186CDC"/><path d="M1054.7,44.8H1123.2" stroke="#007D00" stroke-width="3"/><path d="M1089.00,53.10 L1081.81,40.65 L1096.19,40.65Z" fill="#007D00"/><path d="M1054.7,83.1H1123.2" stroke="#7B007B" stroke-width="3"/><path d="M1089.00,75.50L1096.60,83.10L1089.00,90.70L1081.40,83.10Z" fill="#7B007B"/><path d="M1054.7,121.4H1123.2" stroke="#808000" stroke-width="3"/><path d="M1080.70,121.40 L1093.15,114.21 L1093.15,128.59Z" fill="#808000"/><text transform="translate(986.85,55.40) scale(0.9890,1)" fill="#000"><tspan font-size="31" font-weight="bold" font-style="normal">0 M</tspan></text><text transform="translate(963.86,93.60) scale(0.9890,1)" fill="#000"><tspan font-size="31" font-weight="bold" font-style="normal">0.1 M</tspan></text><text transform="translate(963.86,131.80) scale(0.9890,1)" fill="#000"><tspan font-size="31" font-weight="bold" font-style="normal">0.2 M</tspan></text><text transform="translate(1131.03,55.40) scale(0.9890,1)" fill="#000"><tspan font-size="31" font-weight="bold" font-style="normal">0.3 M</tspan></text><text transform="translate(1131.03,93.60) scale(0.9890,1)" fill="#000"><tspan font-size="31" font-weight="bold" font-style="normal">0.4 M</tspan></text><text transform="translate(1131.03,131.80) scale(0.9890,1)" fill="#000"><tspan font-size="31" font-weight="bold" font-style="normal">0.5 M</tspan></text></svg></body></html>
